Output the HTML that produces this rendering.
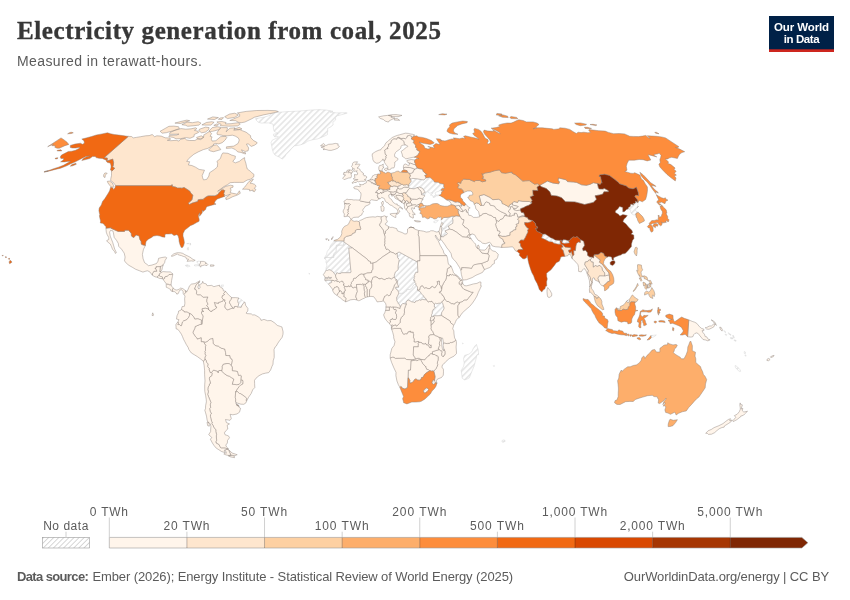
<!DOCTYPE html>
<html lang="en"><head><meta charset="utf-8"><title>Electricity generation from coal, 2025</title>
<style>
html,body{margin:0;padding:0;background:#fff;}
body{width:850px;height:600px;overflow:hidden;position:relative;font-family:"Liberation Sans",sans-serif;}
svg{position:absolute;left:0;top:0;}
.title{font-family:"Liberation Serif",serif;font-weight:700;font-size:25px;fill:#373737;stroke:#373737;stroke-width:0.35px;}
.sub{font-size:14px;fill:#5b5b5b;}
.lg{font-size:12px;fill:#5b5b5b;}
.ft{font-size:13px;fill:#5b5b5b;}
.logo{font-size:11.5px;font-weight:700;fill:#fff;}
#map path{stroke:#8a7f78;stroke-width:0.45;stroke-linejoin:round;}
#map .nd path{stroke:#cfcfcf;}
</style></head><body>
<svg width="850" height="600" viewBox="0 0 850 600">
<defs><pattern id="hatch" patternUnits="userSpaceOnUse" width="4.2" height="4.2" patternTransform="rotate(45)"><rect width="4.2" height="4.2" fill="#fff"/><rect x="0" y="0" width="1.7" height="4.2" fill="#e7e7e7"/></pattern><pattern id="hatchL" patternUnits="userSpaceOnUse" width="3.6" height="3.6" patternTransform="rotate(45)"><rect width="3.6" height="3.6" fill="#fff"/><rect x="0" y="0" width="0.8" height="3.6" fill="#cdcdcd"/></pattern></defs>
<rect width="850" height="600" fill="#fff"/>
<text id="title" x="17" y="39" class="title" style="letter-spacing:0.605px;">Electricity generation from coal, 2025</text>
<text id="sub" x="17" y="66.2" class="sub" style="letter-spacing:0.407px;">Measured in terawatt-hours.</text>
<g id="logo"><rect x="769" y="16" width="65" height="36" fill="#002147"/><rect x="769" y="49.3" width="65" height="2.7" fill="#ce261e"/>
<text id="lo1" x="801.5" y="30.6" text-anchor="middle" class="logo" style="letter-spacing:-0.113px;">Our World</text>
<text id="lo2" x="801.5" y="42.8" text-anchor="middle" class="logo" style="letter-spacing:-0.421px;">in Data</text></g>
<g id="map">
<g fill="url(#hatch)" class="nd">
<path id="c-ATF" d="M502.1,440.5L504.0,439.8L505.4,441.0L503.5,442.2L502.0,442.0Z"/>
<path id="c-BHS" d="M187.4,247.9L188.5,247.6L188.6,250.0L187.3,249.7ZM186.7,243.7L189.0,243.3L188.7,243.8ZM190.0,242.9L190.9,244.0L190.2,245.3L190.0,244.2Z"/>
<path id="c-BRN" d="M629.4,300.3L629.3,301.9L627.9,302.7L626.5,301.4L627.6,300.3L628.5,300.1L629.0,299.6Z"/>
<path id="c-BTN" d="M565.1,239.8L567.8,240.6L568.9,241.5L569.3,243.0L566.9,243.2L564.3,243.4L562.0,242.8L562.0,241.8L563.0,239.7Z"/>
<path id="c-CAF" d="M398.9,304.4L398.0,303.1L397.8,302.1L396.7,300.8L396.9,300.0L396.6,298.9L396.8,296.8L397.4,296.4L398.5,293.7L400.4,293.5L400.8,292.9L401.2,292.9L401.8,293.5L404.6,292.5L405.6,291.5L406.8,290.6L406.6,289.7L407.2,289.4L409.4,289.6L411.6,288.4L413.2,285.5L414.4,284.5L415.8,284.0L416.1,285.2L417.4,286.8L417.5,287.8L417.4,289.9L418.1,290.5L419.9,291.6L421.0,292.7L421.1,293.5L422.7,294.9L423.7,296.0L424.3,297.6L426.0,298.6L426.4,299.5L425.7,299.7L424.2,299.7L422.4,299.4L421.6,299.6L421.3,300.2L420.5,300.3L419.6,299.8L417.0,301.1L416.0,300.8L415.7,301.0L415.0,302.6L413.3,302.1L411.6,301.8L410.1,300.9L408.2,300.0L407.0,300.8L406.1,302.1L406.3,304.0L405.9,304.0L404.4,303.8L402.8,303.4L401.5,304.8L400.3,307.2L399.9,305.2Z"/>
<path id="c-COM" d="M462.6,342.8L463.1,343.4L462.7,344.1Z"/>
<path id="c-CPV" d="M308.9,273.2L309.7,273.8L309.1,274.2Z"/>
<path id="c-CYP" d="M433.6,221.8L435.0,220.9L438.4,220.0L437.1,221.8L435.3,222.8L433.9,222.4Z"/>
<path id="c-ESH" d="M343.9,241.9L343.9,245.3L336.4,245.3L336.2,251.9L334.0,253.4L333.9,257.5L324.9,257.5L324.7,258.8L324.8,257.3L326.5,254.4L327.3,251.3L329.6,248.4L330.1,246.6L331.0,244.5L333.1,242.7L333.8,241.0L333.9,240.9L343.9,240.9Z"/>
<path id="c-GMB" d="M328.0,276.9L328.8,276.9L329.7,277.5L330.4,277.5L331.1,277.1L331.6,277.9L330.6,278.5L329.6,278.4L328.6,277.9L327.8,278.5L327.4,278.5L326.8,278.8L324.8,278.8L324.8,277.9L324.9,277.6L327.5,277.6Z"/>
<path id="c-GNB" d="M331.6,281.4L331.8,282.3L331.4,282.6L330.9,282.6L330.3,283.1L329.6,283.0L328.6,284.3L327.5,283.1L325.7,281.3L325.0,280.9L325.0,280.8L326.3,280.4L327.6,280.1L331.9,280.3L331.8,281.1Z"/>
<path id="c-GRL" d="M282.2,159.0L279.0,156.9L275.1,155.2L273.3,152.6L272.2,148.7L271.7,145.7L271.0,142.5L272.4,140.0L277.7,137.8L278.3,136.5L274.7,136.9L273.2,135.0L273.6,134.1L278.0,133.5L274.2,131.3L273.5,129.6L273.3,126.1L273.0,124.1L268.5,122.9L261.5,123.1L258.3,122.3L256.6,120.7L255.8,119.1L255.5,118.6L264.3,117.1L270.0,115.4L270.9,113.7L277.0,112.4L287.4,111.6L298.7,111.1L308.9,110.2L318.7,109.6L326.6,110.1L333.0,111.3L330.0,112.1L336.7,112.9L345.8,112.7L347.2,113.1L342.0,114.6L337.4,115.8L335.5,117.6L335.6,120.1L332.9,122.1L333.1,124.7L331.1,126.7L327.5,128.6L327.8,130.9L327.5,132.4L327.5,134.5L326.0,135.4L321.4,137.4L317.7,138.9L312.4,139.8L307.8,141.1L304.6,143.4L300.7,144.8L297.9,145.4L294.3,145.9L291.7,148.4L289.0,151.5L286.3,154.3L284.4,157.3Z"/>
<path id="c-GUF" d="M238.7,303.7L237.8,302.1L237.7,300.1L238.8,298.0L239.0,298.2L242.2,300.1L244.0,302.1L244.1,302.1L243.8,302.9L242.1,305.0L241.2,307.4L239.1,307.1L237.3,307.0L238.2,305.8Z"/>
<path id="c-HTI" d="M200.5,263.0L199.6,264.6L200.0,266.0L197.7,265.7L195.1,266.0L194.0,265.2L196.2,264.7L198.8,264.7L197.9,263.3L196.7,261.8L198.2,261.1L200.5,261.4L200.5,261.6Z"/>
<path id="c-JAM" d="M185.1,265.5L187.1,264.8L189.7,265.7L189.9,266.4L187.5,266.9L185.4,265.6Z"/>
<path id="c-JOR" d="M441.3,234.0L441.6,232.0L441.7,230.3L441.5,228.6L441.8,227.7L444.2,228.8L448.3,226.0L449.6,229.2L444.9,230.9L447.4,233.5L446.4,234.8L444.8,235.2L443.5,236.9L440.9,236.5L440.9,236.0Z"/>
<path id="c-LSO" d="M427.7,390.7L427.2,391.6L426.0,392.0L425.5,392.8L424.7,393.1L423.2,391.1L424.5,389.4L425.7,388.4L426.8,387.8L427.8,388.7L428.5,389.4Z"/>
<path id="c-MDG" d="M476.4,344.4L478.2,349.6L478.6,354.6L477.0,354.8L475.7,360.1L473.9,366.6L471.7,371.8L469.4,377.8L467.7,378.8L464.6,379.9L462.2,378.3L461.7,374.0L461.2,370.5L463.7,366.1L464.2,362.7L463.5,358.8L464.7,355.4L469.0,354.1L471.9,351.7L473.2,348.6L475.2,345.7Z"/>
<path id="c-MRT" d="M333.9,257.5L334.0,253.4L336.2,251.9L336.4,245.3L343.9,245.3L343.9,241.9L352.4,247.9L348.8,248.0L349.8,259.3L350.8,270.5L351.2,270.8L350.6,272.7L341.5,272.7L341.1,273.3L339.0,273.6L337.4,272.9L336.6,272.9L336.2,274.5L335.5,275.0L334.0,273.2L332.6,271.3L331.1,270.6L330.0,269.8L328.8,269.8L327.7,270.4L326.5,270.2L325.7,271.0L326.2,267.4L326.9,265.9L326.5,263.0L325.8,262.2L326.3,260.1L324.7,258.8L324.9,257.5Z"/>
<path id="c-MUS" d="M493.3,365.8L494.3,365.5L494.1,366.6Z"/>
<path id="c-NCL" d="M735.2,365.5L737.2,366.6L739.9,369.5L740.6,371.3L739.2,371.3L736.6,368.9L735.3,367.1Z"/>
<path id="c-NPL" d="M548.2,236.0L550.6,237.7L552.7,238.4L555.1,240.0L557.1,240.2L559.9,240.4L560.6,244.2L558.4,244.2L553.9,243.3L552.4,241.9L549.4,241.7L544.2,239.1L541.5,238.0L542.8,234.3L545.1,233.9Z"/>
<path id="c-PRK" d="M630.2,206.5L630.8,204.1L633.8,204.9L632.9,203.6L634.7,203.5L635.7,202.4L635.3,201.0L637.8,202.5L638.1,202.8L638.1,203.0L637.7,205.4L638.1,206.4L637.5,207.5L636.4,208.8L635.3,210.1L635.9,211.1L638.4,212.4L638.3,212.4L636.0,213.2L635.8,214.5L635.8,214.8L635.6,215.0L633.4,214.8L631.9,214.0L630.5,211.9L630.8,210.3L628.1,208.9L628.5,207.6Z"/>
<path id="c-SLB" d="M723.9,330.6L726.0,332.1L725.3,332.4L723.8,331.1ZM725.2,334.2L726.8,334.5L726.4,335.5L725.3,335.0ZM728.3,332.7L731.1,334.8L730.8,335.3L728.4,333.7ZM730.4,337.4L733.1,337.9L732.7,338.9L730.7,338.7ZM732.9,335.0L734.3,337.4L734.0,338.1L733.0,336.6ZM734.0,339.8L736.2,340.5L735.9,341.3L734.1,340.5Z"/>
<path id="c-SWZ" d="M435.1,382.8L434.5,384.0L433.2,384.3L432.0,382.9L432.0,382.0L432.7,381.0L432.9,380.2L433.6,380.0L434.7,380.5L435.0,381.7Z"/>
<path id="c-SYR" d="M442.7,218.5L443.7,217.5L447.2,217.4L449.7,217.1L451.8,216.3L454.7,216.3L452.4,217.9L453.0,220.2L452.8,223.3L448.3,226.0L444.2,228.8L441.8,227.7L441.4,226.3L442.0,225.4L443.1,223.9L442.8,223.0L441.6,222.7L441.4,221.3L440.9,220.2L441.1,219.3L441.8,219.6Z"/>
<path id="c-TCD" d="M408.2,257.0L417.4,262.0L417.9,272.4L415.9,272.2L414.9,274.1L414.3,275.7L414.8,276.3L414.1,277.1L414.4,278.2L413.8,279.3L413.6,280.3L414.4,280.1L414.9,281.1L415.0,282.6L415.8,283.4L415.8,284.0L414.4,284.5L413.2,285.5L411.6,288.4L409.4,289.6L407.2,289.4L406.6,289.7L406.8,290.6L405.6,291.5L404.6,292.5L401.8,293.5L401.2,292.9L400.8,292.9L400.4,293.5L398.5,293.7L398.9,293.0L398.1,291.2L397.8,290.1L396.7,289.7L395.4,288.2L395.9,287.0L396.9,287.2L397.6,287.0L398.9,287.1L397.6,284.7L397.6,282.9L397.5,281.2L396.5,279.5L395.9,279.7L394.4,277.4L394.3,275.6L395.2,272.2L398.1,269.7L398.1,266.3L398.9,261.0L399.3,259.9L398.4,259.0L398.3,258.2L397.5,257.5L397.1,253.1L399.1,252.0Z"/>
<path id="c-TLS" d="M650.9,335.6L650.9,335.5L653.3,335.3L656.3,335.0L654.3,336.6L651.2,337.9Z"/>
<path id="c-TTO" d="M221.1,285.2L223.4,284.9L223.1,286.7L221.0,286.9Z"/>
<path id="c-UGA" d="M436.9,303.8L438.7,303.2L440.3,303.2L441.8,302.0L442.9,303.8L443.2,305.1L444.2,308.1L443.4,310.0L442.2,311.7L441.6,312.8L441.6,315.6L436.9,315.8L434.4,315.7L433.5,316.0L432.2,316.9L431.6,316.6L431.6,314.6L432.2,313.6L432.3,311.5L432.8,310.3L433.7,309.0L434.5,308.3L435.3,307.4L434.3,307.0L434.4,303.9L435.4,303.2Z"/>
<path id="c-UKR" d="M423.9,179.9L426.1,177.9L429.9,177.3L431.3,178.6L433.7,180.6L434.4,182.1L438.3,182.3L439.7,183.3L443.9,184.2L443.7,186.2L444.2,187.6L444.2,188.6L442.2,188.6L441.3,189.4L441.3,190.5L439.9,190.6L438.2,191.4L435.7,192.3L435.0,192.9L435.4,194.1L436.6,195.1L438.5,194.9L438.6,195.8L436.6,195.9L434.7,197.2L433.1,197.4L432.8,195.5L430.4,195.0L432.3,193.6L432.6,192.9L430.5,193.1L429.1,193.1L427.9,191.8L426.5,192.0L425.5,193.7L424.6,194.9L424.6,195.4L421.5,194.7L422.9,193.3L425.2,192.3L424.6,191.3L422.5,188.3L419.6,187.1L417.2,187.6L414.0,188.9L409.8,188.3L408.2,187.2L408.8,185.5L408.8,184.3L409.1,184.0L410.7,182.1L411.3,181.0L410.1,179.4L412.7,178.4L417.1,178.8L421.4,179.6Z"/>
<path id="c-VUT" d="M744.3,351.5L745.6,352.2L745.2,353.8L744.2,353.3ZM745.0,354.8L746.2,355.6L745.6,356.3L745.1,355.6Z"/>
</g>
<g fill="#fff5eb">
<path id="c-AFG" d="M500.2,219.6L503.0,218.4L504.8,215.1L506.7,215.7L509.5,216.1L511.8,215.8L512.9,215.0L514.5,215.1L514.2,213.2L516.3,213.2L517.2,214.2L517.8,217.1L520.0,216.6L522.3,215.5L524.8,215.9L524.2,216.4L519.9,217.1L517.6,219.0L519.0,220.7L518.5,223.5L516.1,224.4L517.3,226.1L515.8,226.9L515.9,229.7L513.5,230.1L512.9,231.2L510.1,232.5L510.1,235.2L505.7,236.4L502.1,236.4L498.3,235.2L499.9,232.6L499.6,231.2L497.5,230.9L497.2,229.1L496.0,226.5L495.5,224.1L496.5,222.6L496.2,220.1L498.8,221.4Z"/>
<path id="c-AGO" d="M392.1,326.8L392.0,327.9L391.4,328.2L391.4,326.1L391.1,325.6L391.7,325.1L392.4,324.7L393.3,325.6L392.4,326.1ZM406.5,359.5L404.9,358.3L395.7,358.4L395.3,358.5L394.0,357.4L392.5,357.3L391.2,357.7L390.2,358.2L390.2,358.1L390.2,354.8L391.2,350.9L391.9,348.3L394.0,345.7L395.0,341.8L393.7,337.9L393.7,336.1L392.8,332.7L391.6,329.0L391.7,329.0L392.7,328.7L393.3,328.7L394.1,328.4L400.9,328.4L401.5,330.4L402.1,331.9L402.7,332.8L403.5,334.2L405.0,333.9L405.8,333.6L407.1,333.9L407.4,333.3L408.0,331.8L409.5,331.7L409.6,331.2L410.8,331.2L410.5,332.1L413.3,332.1L413.4,333.8L413.8,334.8L413.5,336.3L413.6,337.9L414.4,338.9L414.2,342.0L414.7,341.8L415.8,341.9L417.2,341.5L418.2,341.6L418.5,342.4L418.2,343.7L418.5,344.9L418.2,345.9L418.4,346.8L413.6,346.8L413.3,355.1L414.7,357.2L416.2,358.8L412.0,359.9Z"/>
<path id="c-ALB" d="M405.4,202.2L406.7,203.9L406.6,205.4L407.8,206.6L407.2,208.5L405.9,209.6L404.5,208.0L404.4,205.4L404.2,204.0L404.4,202.2Z"/>
<path id="c-ARE" d="M489.2,248.4L488.9,250.5L487.9,253.9L482.0,253.2L479.5,250.2L479.4,249.8L479.4,249.7L481.7,250.0L484.4,250.2L485.9,249.3L487.5,247.2L488.9,245.4L489.0,245.1L489.4,246.2L489.9,246.3L489.9,247.9L489.9,248.0Z"/>
<path id="c-ARG" d="M221.1,448.1L220.1,447.2L219.1,444.7L216.0,443.0L215.9,441.3L216.7,440.3L216.4,438.0L216.3,435.9L216.6,434.7L215.8,431.6L215.8,429.8L214.0,427.7L213.2,425.7L211.7,423.4L212.3,422.9L211.7,421.6L210.9,418.7L210.4,416.4L210.5,414.6L211.4,413.8L210.1,411.2L209.6,408.6L210.7,407.3L210.2,404.9L210.9,402.3L209.9,400.0L208.4,396.3L207.6,394.2L208.4,391.9L207.8,389.5L208.1,387.2L209.1,385.6L209.5,383.8L210.5,383.3L210.0,381.5L209.3,378.8L209.7,377.0L211.7,375.8L212.1,373.1L211.6,372.6L212.5,371.2L213.5,370.0L216.0,370.8L217.3,371.0L218.2,372.7L218.8,370.5L221.4,370.5L221.8,371.2L224.4,373.6L227.0,375.5L229.4,376.2L231.6,377.7L233.9,379.1L232.3,384.2L236.9,384.7L239.1,384.3L240.7,382.5L240.8,379.8L242.5,380.0L243.1,381.5L243.0,383.9L240.7,385.1L239.1,386.7L238.0,388.2L235.6,391.9L235.5,394.0L235.3,397.4L235.7,399.5L235.6,401.5L235.7,401.8L235.7,401.9L236.0,403.4L236.2,403.6L236.8,405.2L239.1,406.5L239.2,407.5L240.6,408.3L239.5,412.2L236.9,414.0L232.8,414.8L230.1,414.3L231.3,418.7L230.0,420.3L225.5,419.5L226.4,422.6L229.5,423.9L227.2,425.2L227.8,429.0L225.8,430.8L224.4,432.9L225.0,434.7L228.5,435.9L229.5,437.7L227.5,440.5L227.4,443.0L225.8,445.1L226.6,447.1L228.5,448.8L228.2,448.9L225.0,448.1ZM229.6,450.6L232.1,453.0L237.2,454.7L235.1,455.6L231.4,455.2L228.3,455.4L230.9,455.2L228.5,449.7Z"/>
<path id="c-ARM" d="M458.4,205.4L459.9,206.7L461.1,208.3L462.5,210.1L462.9,211.7L460.6,211.4L458.8,209.6L456.3,208.5L455.2,205.9L458.2,205.5Z"/>
<path id="c-AUT" d="M385.7,189.7L388.1,189.2L389.9,189.5L389.7,188.6L389.2,188.0L390.5,186.8L391.3,186.3L393.0,186.7L393.6,185.7L396.5,186.3L397.6,186.7L398.1,188.2L398.1,189.0L397.3,189.0L396.8,189.7L397.0,190.8L396.2,191.1L395.4,191.5L393.2,192.3L391.4,192.0L388.7,191.5L388.1,190.6L385.8,191.4L384.7,191.1L384.0,191.2L382.9,190.6L382.9,189.4L384.6,189.4Z"/>
<path id="c-AZE" d="M466.5,210.3L465.2,209.7L462.9,211.7L462.5,210.1L461.1,208.3L459.9,206.7L458.4,205.4L461.7,206.1L461.0,204.6L461.2,203.9L463.3,205.4L464.6,205.7L465.7,204.0L466.8,205.2L468.3,207.0L470.2,207.9L468.4,208.8L468.6,210.6L467.9,211.4L468.1,212.8L466.1,211.9Z"/>
<path id="c-BDI" d="M433.6,319.4L433.8,320.4L434.2,321.0L434.3,321.9L433.7,322.4L432.8,323.8L431.9,324.7L431.0,324.8L430.9,321.7L430.3,320.5L431.7,320.7Z"/>
<path id="c-BEL" d="M372.9,182.8L371.7,183.3L371.6,182.4L370.5,181.9L369.6,181.2L368.6,181.1L368.4,180.4L369.9,179.8L370.0,179.7L371.7,179.7L373.0,179.5L373.4,179.9L374.9,180.3L374.7,181.1L375.3,181.3L376.0,182.3L375.6,182.8L374.8,183.5L375.0,184.3L373.0,183.7Z"/>
<path id="c-BEN" d="M372.0,285.1L371.6,286.1L371.8,286.9L370.7,288.5L370.0,289.3L369.6,290.9L369.6,292.6L369.5,296.5L367.5,296.9L367.0,295.3L367.1,289.3L366.7,288.8L366.6,287.5L365.1,285.8L365.4,284.4L366.1,284.1L366.6,283.0L367.8,282.7L368.2,281.9L369.0,281.2L369.8,281.2L371.6,282.7L371.5,283.5Z"/>
<path id="c-BFA" d="M361.6,284.6L360.5,284.4L356.5,284.5L356.5,286.0L356.8,287.9L355.2,287.3L354.2,287.4L353.3,288.0L352.3,287.5L351.9,286.6L350.9,286.0L350.7,284.5L351.4,283.4L351.3,282.5L353.1,280.4L353.5,278.6L354.1,278.0L355.2,278.3L356.2,277.8L356.5,277.1L358.3,275.9L358.7,275.1L360.9,274.0L362.1,273.7L362.7,274.2L364.1,274.1L364.0,275.4L364.3,276.6L365.6,278.3L365.6,279.6L368.3,280.1L368.2,281.9L367.8,282.7L366.6,283.0L366.1,284.1L365.4,284.4L363.3,284.3L362.3,284.1Z"/>
<path id="c-BGR" d="M411.4,200.5L410.0,199.0L410.4,197.9L411.2,199.0L414.4,199.2L416.5,199.4L419.5,198.1L422.9,199.1L422.8,200.0L421.8,200.5L421.4,201.8L421.0,202.3L422.3,203.6L421.0,203.3L418.9,204.4L416.8,205.5L415.0,204.8L411.8,205.3L411.6,203.7L410.3,202.8L410.4,201.3Z"/>
<path id="c-BIH" d="M399.4,200.0L397.0,197.9L395.9,196.4L396.0,195.4L398.2,195.2L400.5,195.6L402.8,196.2L403.5,197.7L403.9,198.6L403.4,199.7L402.4,200.4L402.0,202.3L400.2,200.9Z"/>
<path id="c-BLR" d="M409.0,177.4L410.3,176.4L410.2,175.1L409.0,173.3L410.8,173.4L413.0,172.4L413.1,170.9L414.5,169.9L414.3,169.0L416.2,168.7L417.1,167.9L419.6,168.7L422.6,169.2L423.1,171.2L425.1,173.2L427.2,174.6L424.8,175.4L426.1,177.9L423.9,179.9L421.4,179.6L417.1,178.8L412.7,178.4L410.1,179.4L409.9,177.9Z"/>
<path id="c-BLZ" d="M161.2,266.4L162.5,264.9L163.1,265.0L163.2,265.0L162.4,267.4L161.9,270.1L160.6,271.4L160.3,271.4L160.3,271.6L159.7,271.6L160.4,266.6L160.4,266.3Z"/>
<path id="c-BOL" d="M207.8,341.0L210.1,338.9L212.9,338.4L213.3,341.5L213.3,343.6L215.6,345.6L218.4,346.1L219.4,347.0L221.6,348.3L224.8,349.0L225.6,352.5L225.9,355.5L230.0,355.6L230.3,358.1L231.8,358.9L232.4,360.6L232.0,362.7L231.4,364.8L231.4,365.7L229.1,363.6L227.0,363.5L223.2,364.4L222.2,366.7L222.4,368.0L221.8,371.2L221.4,370.5L218.8,370.5L218.2,372.7L217.3,371.0L216.0,370.8L213.5,370.0L212.5,371.2L211.6,372.6L210.1,372.6L209.0,369.2L209.3,368.7L207.5,366.3L207.9,364.9L207.9,363.7L206.6,362.5L206.2,360.6L205.0,358.8L204.6,358.2L205.8,355.4L204.8,353.8L205.3,352.9L204.7,351.7L205.5,350.4L205.4,346.5L205.8,345.7L203.4,341.7L205.8,342.1Z"/>
<path id="c-BRA" d="M246.7,398.4L244.9,396.7L242.8,395.2L240.4,393.6L239.5,393.5L237.4,391.6L235.6,391.9L238.0,388.2L239.1,386.7L240.7,385.1L243.0,383.9L243.1,381.5L242.5,380.0L240.8,379.8L241.2,375.8L240.3,375.3L238.5,375.6L237.9,373.6L237.4,371.5L235.7,371.2L232.3,370.8L232.3,367.2L231.4,365.7L231.4,364.8L232.0,362.7L232.4,360.6L231.8,358.9L230.3,358.1L230.0,355.6L225.9,355.5L225.6,352.5L224.8,349.0L221.6,348.3L219.4,347.0L218.4,346.1L215.6,345.6L213.3,343.6L213.3,341.5L212.9,338.4L210.1,338.9L207.8,341.0L205.8,342.1L203.4,341.7L201.2,341.8L201.2,337.8L197.3,339.2L196.8,337.9L195.4,336.6L192.9,332.8L193.4,331.1L194.6,328.9L195.2,326.5L199.6,324.6L201.9,324.1L203.0,316.0L201.5,313.5L201.5,311.7L203.6,311.4L202.0,310.4L202.0,308.7L205.8,308.0L206.5,308.5L208.4,308.7L208.9,310.0L210.2,311.1L212.0,311.3L212.5,310.2L215.1,309.2L216.9,307.1L215.4,306.6L215.1,305.0L214.3,302.4L215.6,302.7L218.4,303.4L218.4,302.5L222.7,301.2L223.3,299.5L225.1,299.9L224.7,301.4L225.8,302.9L225.3,304.2L224.9,306.8L225.5,308.3L227.1,309.7L228.2,309.7L230.5,308.7L232.9,308.0L234.0,308.3L234.3,306.6L236.3,306.4L237.3,307.0L239.1,307.1L241.2,307.4L242.1,305.0L243.8,302.9L244.1,302.1L245.0,302.1L245.6,305.3L247.9,308.4L247.8,311.0L246.0,313.1L247.1,313.6L251.3,313.9L252.5,314.9L254.8,314.9L258.2,316.8L260.6,318.8L261.0,320.4L264.0,319.4L267.5,320.7L271.0,320.5L274.5,322.8L277.3,325.4L280.3,326.4L281.9,326.9L282.7,330.1L283.1,331.9L283.0,334.2L282.1,337.4L279.7,340.5L277.9,343.1L276.2,346.2L275.1,347.0L274.0,349.6L274.2,353.5L274.2,357.5L273.2,360.8L273.0,364.2L272.0,366.3L270.6,370.0L268.7,372.6L265.8,373.1L262.5,373.9L259.0,375.7L255.9,378.3L254.5,380.4L254.6,383.5L254.8,387.5L252.7,389.8L251.2,393.5L248.7,397.1L246.5,401.2L246.1,400.0Z"/>
<path id="c-BWA" d="M410.5,370.0L410.9,360.7L412.6,360.6L416.1,359.9L416.9,360.8L418.4,359.8L419.1,359.8L420.4,359.2L420.8,359.4L421.6,361.5L422.1,361.9L422.7,363.4L425.2,366.3L426.1,366.6L426.1,367.5L426.7,369.2L428.4,369.6L429.8,370.7L426.5,372.7L424.4,374.6L423.6,376.3L422.9,377.3L421.6,377.5L421.2,378.8L420.9,379.6L419.4,380.2L417.6,380.1L416.6,379.3L415.6,379.0L414.5,379.6L413.9,380.9L412.8,381.7L411.7,382.8L410.0,383.1L409.6,382.2L409.9,380.6L408.6,378.1L408.0,377.7L408.3,370.1Z"/>
<path id="c-CHE" d="M377.3,192.3L376.1,192.6L375.9,192.9L375.6,192.8L375.8,191.8L376.5,191.4L377.6,190.0L378.8,189.3L380.8,188.7L382.9,189.4L382.9,190.6L384.0,191.2L384.7,191.1L384.0,191.8L383.9,192.7L382.4,192.0L381.8,193.8L380.6,192.2L380.6,192.7L379.5,193.5L377.8,193.5L377.3,192.9Z"/>
<path id="c-CHL" d="M211.7,375.8L209.7,377.0L209.3,378.8L210.0,381.5L210.5,383.3L209.5,383.8L209.1,385.6L208.1,387.2L207.8,389.5L208.4,391.9L207.6,394.2L208.4,396.3L209.9,400.0L210.9,402.3L210.2,404.9L210.7,407.3L209.6,408.6L210.1,411.2L211.4,413.8L210.5,414.6L210.4,416.4L210.9,418.7L211.7,421.6L212.3,422.9L211.7,423.4L213.2,425.7L214.0,427.7L215.8,429.8L215.8,431.6L216.6,434.7L216.3,435.9L216.4,438.0L216.7,440.3L215.9,441.3L216.0,443.0L219.1,444.7L220.1,447.2L221.1,448.1L225.0,448.1L228.2,448.9L226.6,449.3L224.3,450.1L225.0,452.6L221.7,451.6L218.9,449.8L216.2,448.1L214.1,445.6L212.4,443.0L210.4,439.2L211.8,437.5L208.7,434.7L210.6,431.6L210.7,429.0L210.9,426.5L210.4,423.9L207.9,422.1L207.1,420.0L206.5,416.1L205.4,412.2L204.8,410.1L205.5,408.8L205.6,405.7L206.4,401.8L206.2,399.2L205.6,395.3L204.8,391.4L204.7,388.8L204.7,384.8L205.0,380.9L204.6,374.4L204.6,370.5L204.2,365.8L203.3,361.1L203.1,361.0L203.2,361.0L204.4,360.3L205.0,358.8L206.2,360.6L206.6,362.5L207.9,363.7L207.9,364.9L207.5,366.3L209.3,368.7L209.0,369.2L210.1,372.6L211.6,372.6L212.1,373.1ZM230.9,455.2L228.3,455.4L226.2,455.0L223.8,454.0L225.3,453.0L226.3,453.3L226.2,452.1L225.3,450.6L226.8,449.3L228.5,449.7ZM228.5,456.0L232.2,455.5L234.4,456.3L234.5,457.7L230.9,457.0ZM207.0,422.3L208.4,422.2L209.3,424.4L209.3,426.2L207.7,425.7Z"/>
<path id="c-CIV" d="M356.4,293.8L355.8,296.8L356.8,299.0L356.7,300.0L356.2,299.8L354.1,299.4L350.6,299.8L348.3,300.8L346.0,301.8L345.5,301.8L345.5,301.7L345.7,299.6L345.9,299.2L345.8,298.2L344.9,297.1L344.1,297.0L343.5,296.2L344.0,295.1L343.7,293.8L343.9,293.0L344.2,293.0L344.4,291.9L344.2,291.4L344.4,291.0L345.3,290.7L344.7,288.6L344.2,287.6L344.4,286.7L344.8,286.5L345.1,286.2L345.8,286.6L347.6,286.6L348.0,285.9L348.4,285.9L349.0,285.7L349.4,286.7L349.9,286.4L350.9,286.0L351.9,286.6L352.3,287.5L353.3,288.0L354.2,287.4L355.2,287.3L356.8,287.9L357.4,291.7Z"/>
<path id="c-CMR" d="M385.9,307.1L386.1,305.3L385.5,303.2L385.0,302.4L383.8,301.4L382.9,300.8L382.8,300.9L382.9,300.7L383.5,298.8L384.6,296.3L385.2,296.3L386.6,294.7L387.5,294.7L388.8,295.8L390.4,294.9L390.6,293.8L391.1,292.7L391.4,291.4L392.6,290.3L393.1,288.5L393.6,287.9L393.9,286.6L394.5,284.9L396.4,282.9L396.5,282.1L396.7,281.6L395.8,280.5L395.9,279.7L396.5,279.5L397.5,281.2L397.6,282.9L397.6,284.7L398.9,287.1L397.6,287.0L396.9,287.2L395.9,287.0L395.4,288.2L396.7,289.7L397.8,290.1L398.1,291.2L398.9,293.0L398.5,293.7L397.4,296.4L396.8,296.8L396.6,298.9L396.9,300.0L396.7,300.8L397.8,302.1L398.0,303.1L398.9,304.4L399.9,305.2L400.3,307.2L400.1,308.6L398.3,308.0L396.4,307.3L393.5,307.2L393.2,307.0L391.8,307.4L390.4,307.0L389.3,307.2L385.9,307.2Z"/>
<path id="c-COD" d="M415.8,341.9L414.7,341.8L414.2,342.0L414.4,338.9L413.6,337.9L413.5,336.3L413.8,334.8L413.4,333.8L413.3,332.1L410.5,332.1L410.8,331.2L409.6,331.2L409.5,331.7L408.0,331.8L407.4,333.3L407.1,333.9L405.8,333.6L405.0,333.9L403.5,334.2L402.7,332.8L402.1,331.9L401.5,330.4L400.9,328.4L394.1,328.4L393.3,328.7L392.7,328.7L391.7,329.0L391.6,329.0L391.4,328.5L391.4,328.2L392.0,327.9L392.1,326.8L392.4,326.1L393.3,325.6L393.9,325.8L394.7,324.8L395.9,324.9L396.1,325.6L396.9,326.1L398.3,324.4L399.6,323.2L400.2,322.3L400.2,320.2L401.2,317.6L402.3,316.3L403.8,315.0L404.0,314.2L404.1,313.3L404.5,312.3L404.3,310.9L404.6,308.6L405.1,306.9L405.7,305.5L406.3,304.0L406.1,302.1L407.0,300.8L408.2,300.0L410.1,300.9L411.6,301.8L413.3,302.1L415.0,302.6L415.7,301.0L416.0,300.8L417.0,301.1L419.6,299.8L420.5,300.3L421.3,300.2L421.6,299.6L422.4,299.4L424.2,299.7L425.7,299.7L426.4,299.5L427.8,301.6L428.9,301.9L429.5,301.5L430.6,301.6L431.8,301.1L432.4,302.2L434.4,303.9L434.3,307.0L435.3,307.4L434.5,308.3L433.7,309.0L432.8,310.3L432.3,311.5L432.2,313.6L431.6,314.6L431.6,316.6L430.9,317.3L430.8,318.9L430.5,319.1L430.3,320.5L430.9,321.7L431.0,324.8L431.4,327.2L431.1,328.6L431.6,330.1L432.9,331.6L434.1,334.9L433.2,334.6L430.0,335.0L429.4,335.4L428.7,337.0L429.2,338.2L428.8,341.3L428.4,343.9L429.0,344.3L430.6,345.3L431.2,344.9L431.3,347.7L429.6,347.7L428.7,346.2L427.9,345.1L426.1,344.7L425.6,343.4L424.2,344.2L422.4,343.8L421.7,342.7L420.2,342.4L419.1,342.5L419.0,341.7L418.2,341.6L417.2,341.5Z"/>
<path id="c-COG" d="M405.1,306.9L404.6,308.6L404.3,310.9L404.5,312.3L404.1,313.3L404.0,314.2L403.8,315.0L402.3,316.3L401.2,317.6L400.2,320.2L400.2,322.3L399.6,323.2L398.3,324.4L396.9,326.1L396.1,325.6L395.9,324.9L394.7,324.8L393.9,325.8L393.3,325.6L392.4,324.7L391.7,325.1L391.1,325.6L390.5,324.8L389.0,323.4L390.7,322.0L389.8,320.3L390.6,319.6L392.2,319.3L392.3,318.2L393.6,319.4L395.6,319.5L396.3,318.3L396.6,316.6L396.4,314.5L395.3,313.0L396.3,310.0L395.7,309.4L394.0,309.7L393.3,308.3L393.5,307.2L396.4,307.3L398.3,308.0L400.1,308.6L400.3,307.2L401.5,304.8L402.8,303.4L404.4,303.8L405.9,304.0L406.3,304.0L405.7,305.5Z"/>
<path id="c-COL" d="M196.8,284.1L195.8,285.8L194.6,289.1L195.8,289.4L196.7,291.2L196.5,293.7L197.4,294.8L200.4,294.7L203.2,297.2L207.9,296.9L207.0,299.3L206.8,301.4L208.0,304.2L206.7,305.8L208.2,307.1L208.9,310.0L208.4,308.7L206.5,308.5L205.8,308.0L202.0,308.7L202.0,310.4L203.6,311.4L201.5,311.7L201.5,313.5L203.0,316.0L201.9,324.1L201.1,323.1L201.5,320.1L197.8,318.8L194.8,319.2L193.4,316.5L191.5,314.4L189.5,313.4L188.7,313.0L187.1,312.1L184.4,312.1L183.9,311.0L182.0,310.0L181.4,309.4L182.1,306.6L184.4,306.3L184.9,303.2L184.6,298.8L185.0,296.1L183.9,294.3L184.8,293.4L185.6,292.4L185.3,290.5L186.3,290.9L186.5,292.2L187.8,289.9L189.6,285.7L191.5,284.1L195.0,283.6L197.6,282.1L199.8,280.7L199.5,282.2L198.2,282.7Z"/>
<path id="c-CRI" d="M168.8,284.3L169.9,284.9L171.1,284.6L171.6,286.2L173.4,288.1L172.6,289.4L172.7,290.0L172.5,291.5L172.3,291.4L170.9,290.9L170.7,289.6L168.5,288.3L167.6,287.8L166.3,287.3L166.2,284.7L166.5,284.2L166.7,283.9Z"/>
<path id="c-CUB" d="M171.2,256.1L173.7,253.9L176.0,253.1L177.4,252.7L180.6,252.8L182.8,253.4L184.9,254.7L188.1,256.2L191.3,257.9L192.3,259.1L195.2,260.3L193.2,261.2L191.4,260.9L187.0,261.3L188.6,259.2L186.6,259.1L185.7,257.0L183.5,256.5L181.4,255.6L179.6,255.2L178.1,254.7L177.5,253.9L174.9,255.2L172.7,256.2Z"/>
<path id="c-DJI" d="M462.1,280.0L462.6,281.0L462.7,282.6L461.3,283.0L462.7,283.2L462.7,283.3L462.4,283.2L461.9,284.5L461.6,284.6L461.0,284.1L460.5,284.3L459.2,284.3L459.1,283.5L458.9,282.8L459.7,281.5L460.4,280.4L461.4,280.6Z"/>
<path id="c-DNK" d="M379.9,170.9L379.9,170.7L379.3,170.5L378.8,169.3L378.8,167.0L379.6,165.5L381.3,165.3L383.3,164.0L383.2,165.3L382.9,166.8L384.1,167.2L383.0,167.9L382.3,169.4L381.8,170.2L382.4,171.0L381.5,171.2ZM384.4,169.0L385.9,168.2L387.4,168.1L387.3,169.9L386.4,170.8L384.9,170.2Z"/>
<path id="c-DOM" d="M200.6,261.4L203.3,261.4L204.7,261.8L206.2,262.7L205.2,263.4L207.2,263.7L207.9,264.6L207.0,265.6L204.3,265.0L202.7,265.6L201.6,265.4L200.7,267.2L200.0,266.0L199.6,264.6L200.5,263.0L200.5,261.6L200.5,261.4Z"/>
<path id="c-DZA" d="M346.4,236.4L348.4,235.9L351.5,235.1L352.5,233.5L355.2,232.4L355.3,230.5L356.9,229.5L360.5,229.4L360.7,228.6L359.6,225.2L359.5,222.4L358.5,221.5L360.7,220.2L362.0,219.7L364.4,218.4L366.5,217.6L369.8,217.1L373.0,216.8L375.2,217.1L377.3,216.4L380.1,216.7L381.5,216.7L381.1,218.1L381.5,220.5L381.0,222.7L379.7,224.1L380.0,226.1L381.8,227.7L381.9,228.3L383.2,229.4L384.3,234.0L385.1,236.3L385.2,237.5L384.9,239.7L385.1,240.9L384.8,242.3L385.1,243.9L384.2,245.0L385.5,246.9L385.7,248.0L386.5,249.5L387.5,249.0L389.3,250.2L390.3,251.9L382.7,256.8L376.2,262.0L373.0,263.1L370.5,263.4L370.4,261.7L369.4,261.3L368.0,260.6L367.4,259.3L359.8,253.6L352.4,247.9L343.9,241.9L343.9,240.9L344.0,238.2Z"/>
<path id="c-ECU" d="M183.9,311.0L184.4,312.1L187.1,312.1L188.7,313.0L189.5,313.4L189.5,315.6L188.9,317.1L186.5,319.9L183.7,320.9L182.5,322.0L181.8,325.1L181.1,326.1L179.7,324.7L177.7,324.6L178.4,323.3L178.0,322.0L178.9,319.6L176.5,319.1L177.0,315.7L178.3,313.1L178.6,311.0L180.9,310.2L181.4,309.4L182.0,310.0ZM152.0,315.4L152.7,312.8L153.6,314.9L153.2,315.7Z"/>
<path id="c-EGY" d="M418.1,234.7L418.5,233.1L418.1,232.0L418.8,230.7L418.8,230.5L420.6,230.7L423.5,231.2L426.3,232.1L429.3,231.7L430.4,230.9L431.7,230.7L433.7,230.9L434.6,231.4L436.6,232.0L437.9,231.8L438.9,231.4L440.8,236.1L440.5,238.0L440.0,240.0L439.7,240.7L438.2,239.3L436.6,236.9L435.5,235.0L435.3,236.4L436.6,238.7L438.1,240.6L438.8,242.1L440.2,245.3L442.0,248.4L443.3,250.7L443.9,253.4L446.7,255.7L419.8,255.7L418.9,236.8Z"/>
<path id="c-ERI" d="M447.2,270.6L447.3,268.9L448.0,268.1L449.6,267.6L450.7,266.1L451.1,266.1L452.7,270.1L453.5,272.7L455.2,274.2L457.6,275.8L460.2,278.7L462.1,279.9L462.1,280.0L461.4,280.6L460.4,280.4L459.6,279.5L458.6,278.0L457.5,277.2L456.9,276.3L454.9,275.2L453.3,275.2L452.7,274.6L451.4,275.2L450.0,274.1L449.3,276.0L446.7,275.5L446.4,274.4Z"/>
<path id="c-ESP" d="M348.3,213.5L347.6,212.7L348.3,211.1L347.3,209.7L348.4,209.6L348.7,208.0L348.7,206.2L350.2,204.6L349.4,203.7L348.1,203.9L346.2,204.1L346.0,203.2L344.6,204.0L344.7,203.6L344.6,203.4L344.6,203.1L343.9,201.3L346.0,199.9L346.9,199.1L348.7,199.6L351.4,199.5L353.9,200.0L355.4,199.9L357.2,200.0L359.5,200.1L360.4,200.9L361.8,201.3L364.8,201.8L366.3,202.1L367.0,202.3L369.9,202.4L370.2,202.8L369.9,203.9L367.9,205.2L365.4,206.1L364.8,207.2L363.3,209.0L362.6,210.2L363.6,211.9L362.2,213.2L361.7,215.0L359.4,216.1L358.7,217.2L356.8,217.2L353.8,217.4L351.8,218.7L351.2,219.2L349.7,217.7L349.5,216.8L347.3,216.1L347.1,215.3ZM325.6,239.1L327.3,238.6L326.7,239.9ZM328.1,239.8L329.0,239.7L328.7,240.7ZM331.5,238.2L332.5,238.2L331.6,239.8ZM332.6,236.9L333.4,237.0L332.6,237.7Z"/>
<path id="c-EST" d="M410.8,163.2L409.1,163.7L409.2,162.5L407.7,162.4L407.1,161.4L406.9,160.5L409.1,159.9L411.4,159.5L413.9,159.9L415.3,159.8L414.5,160.9L414.7,162.4L415.6,163.6L414.9,164.4L413.3,164.4Z"/>
<path id="c-ETH" d="M450.0,274.1L451.4,275.2L452.7,274.6L453.3,275.2L454.9,275.2L456.9,276.3L457.5,277.2L458.6,278.0L459.6,279.5L460.4,280.4L459.7,281.5L458.9,282.8L459.1,283.5L459.2,284.3L460.5,284.3L461.0,284.1L461.6,284.6L461.1,285.5L462.0,287.0L462.9,288.2L463.8,289.1L471.4,292.2L473.3,292.2L467.0,300.1L464.0,300.2L462.0,302.0L460.5,302.1L459.9,302.9L458.3,302.9L457.3,302.0L455.2,303.1L454.6,304.2L453.0,304.0L452.5,303.7L452.0,303.7L451.3,303.7L448.3,301.5L446.7,301.5L445.9,300.6L444.7,299.0L443.3,295.9L442.2,295.3L441.8,294.2L440.6,293.0L439.2,292.8L439.9,291.3L441.2,291.2L441.5,290.5L441.7,288.4L442.0,285.4L443.1,284.6L443.3,283.6L444.2,281.9L445.5,280.3L446.4,277.7L446.7,275.5L449.3,276.0Z"/>
<path id="c-FIN" d="M403.8,141.4L402.6,140.3L399.9,138.7L397.8,137.7L398.9,137.2L401.0,138.5L403.5,138.3L405.5,138.7L406.6,137.8L407.3,135.8L409.5,135.4L411.8,136.3L411.9,137.7L411.3,138.9L414.3,140.7L413.3,142.5L415.7,145.2L415.5,147.3L417.4,148.9L416.6,149.7L419.9,151.7L417.6,155.4L414.3,157.2L412.9,157.3L409.3,158.1L405.8,158.9L404.3,157.6L402.4,156.4L402.4,155.0L401.7,152.9L401.1,151.5L403.6,149.6L406.4,147.3L407.8,146.6L407.3,145.6L405.3,145.0L404.1,143.6Z"/>
<path id="c-FJI" d="M767.0,359.3L768.8,358.4L770.1,359.5L768.7,360.7L766.9,360.5ZM770.3,356.9L772.9,355.6L774.1,355.4L773.3,356.7L770.9,357.5Z"/>
<path id="c-FRA" d="M366.3,202.1L364.8,201.8L361.8,201.3L360.4,200.9L359.5,200.1L360.2,199.7L360.7,196.9L361.0,194.6L360.8,192.8L359.2,191.3L358.8,190.3L357.6,189.5L356.2,189.0L354.4,188.7L353.7,187.3L355.4,186.4L357.2,186.2L359.3,186.7L360.3,186.6L360.1,185.2L359.5,183.9L361.1,184.8L363.5,184.5L363.7,183.9L366.3,182.9L366.5,181.4L367.1,180.8L368.4,180.4L368.6,181.1L369.6,181.2L370.5,181.9L371.6,182.4L371.7,183.3L372.9,182.8L373.0,183.7L375.0,184.3L376.1,184.5L376.9,185.3L378.4,185.4L379.9,185.8L379.1,186.7L378.6,188.0L378.8,189.3L377.6,190.0L376.5,191.4L375.8,191.8L375.6,192.8L375.9,192.9L376.1,192.6L377.3,192.3L377.3,192.9L377.8,193.5L377.3,193.8L377.8,194.6L377.1,195.6L377.8,195.9L377.6,197.4L377.9,197.8L379.2,198.1L378.9,199.0L378.3,199.4L377.1,200.5L374.6,200.3L372.9,200.0L371.7,199.7L370.6,200.3L369.7,201.3L369.9,202.4L367.0,202.3ZM381.4,202.6L383.0,201.0L383.4,203.3L382.7,205.2L381.9,204.6Z"/>
<path id="c-GAB" d="M394.0,309.7L395.7,309.4L396.3,310.0L395.3,313.0L396.4,314.5L396.6,316.6L396.3,318.3L395.6,319.5L393.6,319.4L392.3,318.2L392.2,319.3L390.6,319.6L389.8,320.3L390.7,322.0L389.0,323.4L388.9,323.3L386.4,320.4L384.8,318.1L383.6,314.9L384.8,312.6L385.2,311.5L385.5,310.5L385.5,310.4L386.0,310.3L389.4,310.3L389.3,307.2L390.4,307.0L391.8,307.4L393.2,307.0L393.5,307.2L393.3,308.3Z"/>
<path id="c-GBR" d="M351.9,183.0L354.3,180.6L355.0,180.1L357.3,180.1L357.9,179.4L357.0,179.6L355.0,179.3L353.2,178.9L354.8,177.6L355.2,176.9L354.1,176.1L354.9,175.1L354.3,174.6L356.9,174.8L357.4,174.5L357.7,172.9L356.3,171.9L357.3,170.8L353.8,171.4L353.7,170.2L354.3,169.4L353.9,168.3L352.5,169.8L352.6,167.7L351.5,166.5L352.5,165.0L352.4,163.7L353.8,162.0L357.1,161.8L357.6,161.8L356.0,163.8L355.4,164.6L357.1,164.1L359.7,164.2L359.9,164.6L359.3,165.5L358.5,166.8L358.0,167.4L357.0,168.2L358.5,168.2L359.7,169.0L360.4,170.7L361.2,171.7L362.5,172.4L363.1,172.9L363.6,174.1L362.9,174.1L364.0,175.4L363.9,175.9L364.3,175.8L365.8,175.8L366.7,176.9L366.5,178.0L365.7,178.6L365.1,179.3L364.5,179.5L366.1,179.8L366.0,180.4L365.2,180.9L363.9,181.3L361.7,181.3L360.7,181.3L359.3,181.6L358.4,181.8L357.3,181.4L356.3,182.3L356.0,182.7L354.9,182.3L353.2,183.0L352.9,183.3ZM351.3,172.9L350.5,173.0L349.3,172.3L348.7,172.8L347.5,172.0L348.0,171.8L348.8,171.3L349.3,170.4L349.4,169.9L350.8,170.1L351.7,170.2L352.5,171.3L352.7,172.2L351.7,173.0Z"/>
<path id="c-GEO" d="M452.0,200.5L455.2,202.1L457.7,201.8L459.3,202.3L461.2,203.9L461.0,204.6L461.7,206.1L458.4,205.4L458.2,205.5L455.2,205.9L453.1,205.0L451.0,204.8L450.9,204.7L451.1,203.3L449.2,201.0L446.9,200.0L448.0,199.6Z"/>
<path id="c-GHA" d="M364.2,286.5L364.2,288.4L364.4,290.5L364.9,291.4L364.4,293.8L364.6,295.1L365.2,296.7L365.6,297.4L364.5,298.1L362.8,298.8L359.4,300.6L358.5,300.7L356.7,300.0L356.8,299.0L355.8,296.8L356.4,293.8L357.4,291.7L356.8,287.9L356.5,286.0L356.5,284.5L360.5,284.4L361.6,284.6L362.3,284.1L363.3,284.3L363.2,285.2Z"/>
<path id="c-GIN" d="M339.2,290.3L338.8,289.7L338.9,288.9L338.4,287.8L337.7,286.9L335.9,286.9L335.4,287.4L334.7,287.4L334.3,288.0L334.1,288.7L332.8,289.9L332.7,289.8L332.7,289.6L331.8,288.3L329.8,285.7L328.8,284.5L328.6,284.3L329.6,283.0L330.3,283.1L330.9,282.6L331.4,282.6L331.8,282.3L331.6,281.4L331.8,281.1L331.9,280.3L333.0,280.3L334.6,280.9L335.3,280.6L336.6,280.8L337.4,281.6L338.4,281.3L339.0,282.0L340.0,282.2L340.6,281.6L341.3,281.3L341.9,280.9L342.4,281.0L342.9,281.6L343.1,282.3L344.1,283.4L343.6,284.0L343.5,284.9L344.0,284.6L344.3,284.9L344.1,285.7L344.8,286.5L344.4,286.7L344.2,287.6L344.7,288.6L345.3,290.7L344.4,291.0L344.2,291.4L344.4,291.9L344.2,293.0L343.9,293.0L343.2,293.0L342.7,294.0L342.1,294.0L341.7,293.5L341.8,292.4L340.8,290.8L340.2,291.1L339.8,291.2L339.1,291.3Z"/>
<path id="c-GNQ" d="M386.0,310.3L385.5,310.4L385.9,309.2L385.9,307.2L389.3,307.2L389.4,310.3Z"/>
<path id="c-GRC" d="M407.8,206.6L409.6,205.9L411.8,205.3L415.0,204.8L416.8,205.5L418.9,204.4L419.5,205.3L418.5,206.8L418.5,207.0L416.3,206.5L415.0,206.5L414.1,207.7L415.0,208.3L413.8,208.9L412.8,208.3L411.9,207.5L411.4,208.8L412.2,210.3L413.1,211.1L412.3,211.9L413.7,212.7L414.9,213.5L415.1,214.9L414.0,214.1L412.7,214.2L413.3,215.5L413.4,218.0L412.0,218.0L411.0,216.6L410.2,217.1L409.1,214.8L409.9,213.5L408.6,213.2L407.6,211.6L406.4,209.7L405.9,209.6L407.2,208.5ZM414.4,220.5L416.5,220.7L420.5,221.3L420.3,221.8L417.1,221.9L414.6,221.1Z"/>
<path id="c-GTM" d="M153.9,271.2L156.8,271.2L156.4,270.1L155.6,269.0L154.9,268.1L156.0,268.1L156.1,266.6L160.4,266.6L159.7,271.6L160.3,271.6L161.2,272.1L161.7,272.0L161.7,272.1L160.6,273.2L159.5,273.8L159.3,275.0L158.9,275.5L158.4,276.1L157.0,277.2L155.0,276.8L152.4,275.3L152.3,275.1L152.6,273.3ZM160.3,271.6L160.3,271.4L160.6,271.4L160.8,271.1Z"/>
<path id="c-GUY" d="M222.4,295.6L224.4,294.6L223.5,293.4L225.7,291.4L228.5,294.8L231.5,297.4L231.6,297.5L231.6,297.6L231.2,299.5L229.8,301.1L229.5,302.7L230.4,304.2L231.3,305.8L232.9,308.0L230.5,308.7L228.2,309.7L227.1,309.7L225.5,308.3L224.9,306.8L225.3,304.2L225.8,302.9L224.7,301.4L225.1,299.9L223.3,299.5L221.8,297.6Z"/>
<path id="c-HND" d="M159.5,273.8L160.6,273.2L161.7,272.1L161.8,272.0L163.1,271.6L166.9,271.9L170.3,271.9L172.9,274.0L172.8,274.1L171.2,274.6L169.1,274.5L167.1,276.7L166.2,276.4L164.7,277.2L164.7,278.4L163.7,279.2L163.0,279.4L162.8,278.4L162.1,278.7L162.2,278.1L162.5,277.1L161.6,276.6L160.7,276.6L158.9,275.5L159.3,275.0Z"/>
<path id="c-HRV" d="M394.9,194.6L395.5,192.8L397.2,192.1L398.0,192.6L399.7,193.5L402.2,193.5L402.8,195.1L403.5,195.4L402.8,196.2L400.5,195.6L398.2,195.2L396.0,195.4L395.9,196.4L397.0,197.9L399.4,200.0L400.2,200.9L402.0,202.3L402.2,202.6L400.0,201.2L397.8,199.7L395.1,198.2L394.1,195.9L392.8,195.1L392.1,196.4L391.2,194.6L391.2,194.7L391.4,194.6L393.4,194.3Z"/>
<path id="c-HUN" d="M396.8,189.7L397.3,189.0L398.1,189.0L398.1,188.2L399.5,188.9L401.5,188.7L403.1,187.7L404.8,187.0L407.3,187.3L408.2,187.2L409.8,188.3L408.2,189.7L406.8,192.3L404.9,193.0L403.5,192.9L402.2,193.5L399.7,193.5L398.0,192.6L397.2,192.1L396.2,191.1L397.0,190.8Z"/>
<path id="c-IRL" d="M351.5,175.8L351.1,177.4L350.8,177.8L348.5,178.0L346.9,178.6L344.5,179.5L343.9,179.5L342.9,178.5L342.8,177.8L344.2,176.8L344.7,175.4L345.6,175.1L343.8,174.5L343.4,174.6L344.1,172.7L343.7,173.2L344.1,172.4L346.6,172.4L346.5,171.5L347.1,170.4L349.1,169.8L349.4,169.9L349.3,170.4L348.8,171.3L348.0,171.8L347.5,172.0L348.7,172.8L349.3,172.3L350.5,173.0L351.3,172.9L351.7,173.0L351.6,173.0L351.2,173.9L351.2,174.8Z"/>
<path id="c-IRN" d="M469.5,233.5L468.7,232.2L468.7,230.1L467.5,228.6L464.5,227.1L464.6,226.5L463.1,225.4L462.5,224.4L463.6,221.5L463.8,219.7L461.7,219.2L459.9,216.2L458.3,212.9L458.1,210.3L458.8,209.6L460.6,211.4L462.9,211.7L465.2,209.7L466.5,210.3L466.1,211.9L468.1,212.8L468.2,213.2L468.8,215.3L471.0,215.5L473.5,217.4L476.8,217.4L479.9,216.7L479.5,215.7L481.4,215.4L482.5,213.8L486.1,213.3L489.0,214.9L491.0,215.3L493.9,217.5L495.5,217.5L496.2,220.1L496.5,222.6L495.5,224.1L496.0,226.5L497.2,229.1L497.5,230.9L499.6,231.2L499.9,232.6L498.3,235.2L500.5,238.0L503.1,239.4L503.6,242.0L504.8,242.3L504.8,243.6L502.2,244.4L501.6,247.4L501.7,247.5L499.1,247.0L495.8,246.8L492.3,246.0L490.9,243.4L489.4,242.3L486.4,243.4L485.3,243.7L482.5,243.2L480.5,241.4L478.2,240.3L476.3,237.7L474.6,234.8L471.8,233.8L471.1,235.0L471.0,235.0L470.9,235.0Z"/>
<path id="c-IRQ" d="M469.6,234.8L468.5,234.8L466.8,237.2L466.5,237.3L462.6,236.9L456.3,232.0L452.3,229.7L449.6,229.2L448.3,226.0L452.8,223.3L453.0,220.2L452.4,217.9L454.7,216.3L456.0,215.7L459.9,216.2L461.7,219.2L463.8,219.7L463.6,221.5L462.5,224.4L463.1,225.4L464.6,226.5L464.5,227.1L467.5,228.6L468.7,230.1L468.7,232.2L469.5,233.5L470.9,235.0L470.0,235.1L469.8,235.0Z"/>
<path id="c-ISL" d="M323.0,149.6L324.4,148.4L321.1,147.2L324.8,146.1L320.5,145.7L323.6,143.5L325.8,145.7L328.6,144.3L332.1,144.1L335.3,143.4L338.2,143.9L337.8,145.4L339.5,146.4L337.7,148.2L334.9,149.4L331.2,150.4L328.6,150.3L326.0,149.5Z"/>
<path id="c-ISR" d="M439.5,229.9L440.0,227.5L440.3,226.7L441.4,226.3L441.8,227.7L441.5,228.6L441.7,230.3L441.6,232.0L441.3,234.0L440.9,236.0L440.8,236.1L438.9,231.4Z"/>
<path id="c-ITA" d="M377.9,197.8L377.6,197.4L377.8,195.9L377.1,195.6L377.8,194.6L377.3,193.8L377.8,193.5L379.5,193.5L380.6,192.7L380.6,192.2L381.8,193.8L382.4,192.0L383.9,192.7L384.0,191.8L384.7,191.1L385.8,191.4L388.1,190.6L388.7,191.5L391.4,192.0L390.8,192.8L391.3,193.8L391.5,194.1L390.3,194.2L388.7,195.1L389.1,197.7L391.5,199.5L393.1,202.3L395.3,203.9L397.4,204.0L396.9,204.9L399.3,205.9L402.6,208.4L402.4,209.3L401.3,208.0L399.8,207.5L398.6,208.5L398.5,209.6L400.0,211.4L398.9,212.2L398.7,213.2L397.8,214.1L396.9,214.1L396.9,213.5L397.8,211.6L397.4,210.1L396.5,208.7L395.2,208.0L393.9,207.2L393.2,206.6L391.8,205.5L389.9,205.0L389.0,204.1L387.9,202.8L386.4,202.3L385.3,201.0L384.8,199.7L384.3,198.5L383.5,198.2L381.8,197.4L380.4,198.6L378.9,199.0L379.2,198.1ZM391.5,194.1L391.8,194.3L391.4,194.6L391.2,194.7L391.2,194.6ZM389.9,214.0L392.1,213.5L396.9,213.3L395.8,215.5L395.9,217.5L394.4,217.1L391.1,215.1ZM380.7,206.5L382.8,205.5L384.1,207.5L383.8,210.9L382.5,211.4L381.3,211.1L381.1,208.0Z"/>
<path id="c-KEN" d="M446.7,301.5L448.3,301.5L451.3,303.7L452.0,303.7L452.5,303.7L453.0,304.0L454.6,304.2L455.2,303.1L457.3,302.0L458.3,302.9L459.9,302.9L457.9,305.8L458.0,315.3L459.2,317.4L458.0,318.3L456.3,319.9L455.6,321.7L454.7,323.8L453.7,325.3L450.5,322.7L450.3,321.2L442.0,315.9L441.6,315.6L441.6,312.8L442.2,311.7L443.4,310.0L444.2,308.1L443.2,305.1L442.9,303.8L441.8,302.0L443.1,300.4L444.7,299.0L445.9,300.6Z"/>
<path id="c-KGZ" d="M517.1,207.7L518.2,206.6L516.1,205.9L512.2,205.0L512.5,203.0L513.8,201.5L517.7,202.4L518.5,200.5L522.5,201.3L529.3,201.5L532.1,203.1L528.9,205.2L525.9,206.3L523.8,207.5L520.6,208.7L520.5,210.2L516.6,210.6L513.9,209.8L513.4,208.3L515.8,208.4Z"/>
<path id="c-KHM" d="M598.2,277.5L599.4,275.7L604.0,275.8L605.8,275.7L609.3,274.7L609.5,277.9L610.0,280.9L607.4,281.9L606.3,283.6L604.7,284.5L603.3,285.9L601.5,285.4L600.0,283.6L599.5,282.6L597.8,278.5Z"/>
<path id="c-KWT" d="M468.8,237.4L466.8,237.2L468.5,234.8L469.6,234.8L469.8,235.0L470.0,235.1L469.7,235.1L469.7,236.4L470.5,237.7L471.1,238.6L469.5,238.7Z"/>
<path id="c-LAO" d="M592.1,256.9L593.5,257.9L594.0,254.7L596.1,256.7L598.6,258.8L600.4,259.9L599.4,262.2L602.4,264.3L606.4,269.8L608.7,272.7L609.3,274.7L605.8,275.7L604.0,275.8L604.7,275.5L604.6,272.9L602.3,270.1L601.9,267.7L599.8,265.4L597.1,266.5L595.6,265.6L593.2,267.2L593.1,262.0L591.6,262.2L590.2,260.0L591.1,258.7Z"/>
<path id="c-LBN" d="M443.1,223.9L442.0,225.4L441.4,226.3L440.3,226.7L440.9,224.7L441.6,222.7L442.8,223.0Z"/>
<path id="c-LBR" d="M344.0,295.1L343.5,296.2L344.1,297.0L344.9,297.1L345.8,298.2L345.9,299.2L345.7,299.6L345.5,301.7L342.5,299.8L340.2,297.7L338.4,296.7L337.0,295.3L337.5,294.6L337.6,293.8L338.7,292.4L339.8,291.2L340.2,291.1L340.8,290.8L341.8,292.4L341.7,293.5L342.1,294.0L342.7,294.0L343.2,293.0L343.9,293.0L343.7,293.8Z"/>
<path id="c-LBY" d="M385.5,232.3L385.3,231.2L386.7,230.2L387.4,229.4L388.4,228.6L388.5,226.6L390.3,227.4L392.3,227.3L394.7,228.0L396.7,228.6L397.5,230.9L399.7,231.7L402.0,232.5L404.9,234.0L406.7,233.8L407.5,232.2L407.5,229.1L409.0,227.8L410.9,227.1L414.1,227.9L414.6,229.1L416.1,229.6L418.7,230.5L418.8,230.5L418.8,230.7L418.1,232.0L418.5,233.1L418.1,234.7L418.9,236.8L419.8,255.7L420.0,260.9L417.4,260.9L417.4,262.0L408.2,257.0L399.1,252.0L397.1,253.1L396.8,253.5L395.2,254.4L393.9,253.0L390.3,251.9L389.3,250.2L387.5,249.0L386.5,249.5L385.7,248.0L385.5,246.9L384.2,245.0L385.1,243.9L384.8,242.3L385.1,240.9L384.9,239.7L385.2,237.5L385.1,236.3L384.3,234.0L385.4,233.4Z"/>
<path id="c-LKA" d="M547.7,287.5L550.2,290.7L551.8,293.8L551.6,296.1L549.1,297.6L547.8,296.9L547.3,295.1L547.0,291.7L547.1,289.6Z"/>
<path id="c-LTU" d="M406.9,170.6L404.3,170.1L403.8,169.9L403.7,169.0L403.5,168.0L405.2,167.2L409.1,167.5L411.0,167.7L414.3,169.0L414.5,169.9L413.1,170.9L413.0,172.4L410.8,173.4L409.0,173.3L407.5,172.3L407.1,170.8Z"/>
<path id="c-LUX" d="M375.6,182.8L376.3,183.7L376.1,184.5L375.0,184.3L374.8,183.5Z"/>
<path id="c-LVA" d="M409.1,167.5L405.2,167.2L403.5,168.0L403.3,167.0L403.8,165.0L404.2,164.4L405.9,164.0L407.1,164.9L408.6,165.8L409.3,165.0L409.1,163.7L410.8,163.2L413.3,164.4L414.9,164.4L415.6,164.9L417.1,167.9L416.2,168.7L414.3,169.0L411.0,167.7Z"/>
<path id="c-MDA" d="M422.5,188.3L424.6,191.3L425.2,192.3L422.9,193.3L421.5,194.7L421.4,193.3L420.8,191.0L419.3,189.5L417.2,187.6L419.6,187.1Z"/>
<path id="c-MEX" d="M111.0,228.3L118.1,231.4L124.5,231.4L124.9,230.2L128.6,230.3L129.4,231.2L131.2,233.3L131.5,235.9L132.2,236.7L133.9,237.5L135.4,235.6L136.4,235.1L138.1,235.4L139.2,236.5L139.6,238.2L139.8,239.3L141.1,241.4L141.4,244.2L143.2,245.0L145.5,245.4L143.5,249.2L142.4,254.4L143.1,258.8L144.6,262.7L146.9,264.3L148.5,265.7L151.8,265.1L154.2,264.3L156.5,263.5L158.0,261.2L158.6,258.3L161.9,257.5L165.3,257.0L166.8,257.8L165.1,260.4L164.6,262.7L163.2,264.8L163.2,265.0L163.1,265.0L162.5,264.9L161.2,266.4L160.4,266.3L160.4,266.6L156.1,266.6L156.0,268.1L154.9,268.1L155.6,269.0L156.4,270.1L156.8,271.2L153.9,271.2L152.6,273.3L152.3,275.1L149.8,271.9L147.6,270.8L146.0,271.1L142.9,272.1L139.6,270.8L135.7,269.3L132.2,267.2L129.0,265.4L126.4,263.3L124.5,260.9L125.1,257.0L124.2,253.1L121.5,249.2L118.7,246.3L118.3,243.4L116.7,240.6L114.2,237.4L113.4,232.7L112.9,230.9L110.5,230.4L109.6,232.2L110.2,236.1L111.5,239.3L112.8,242.7L113.7,245.8L114.7,249.2L116.0,251.8L116.3,252.8L115.3,253.4L114.7,251.8L112.5,249.2L111.5,246.6L110.3,244.0L107.5,241.9L106.7,240.6L108.8,239.5L108.7,237.4L107.0,234.3L106.3,232.2L106.1,230.1L105.9,228.3L105.9,228.2L111.3,227.7Z"/>
<path id="c-MKD" d="M406.7,203.9L408.5,203.0L410.3,202.8L411.6,203.7L411.8,205.3L409.6,205.9L407.8,206.6L406.6,205.4Z"/>
<path id="c-MLI" d="M337.0,279.8L336.8,278.8L336.0,278.1L335.6,276.6L335.5,275.0L336.2,274.5L336.6,272.9L337.4,272.9L339.0,273.6L341.1,273.3L341.5,272.7L350.6,272.7L351.2,270.8L350.8,270.5L349.8,259.3L348.8,248.0L352.4,247.9L359.8,253.6L367.4,259.3L368.0,260.6L369.4,261.3L370.4,261.7L370.5,263.4L373.0,263.1L373.0,269.1L371.8,270.9L371.6,272.5L369.6,272.9L366.5,273.1L365.6,274.0L364.1,274.1L362.7,274.2L362.1,273.7L360.9,274.0L358.7,275.1L358.3,275.9L356.5,277.1L356.2,277.8L355.2,278.3L354.1,278.0L353.5,278.6L353.1,280.4L351.3,282.5L351.4,283.4L350.7,284.5L350.9,286.0L349.9,286.4L349.4,286.7L349.0,285.7L348.4,285.9L348.0,285.9L347.6,286.6L345.8,286.6L345.1,286.2L344.8,286.5L344.1,285.7L344.3,284.9L344.0,284.6L343.5,284.9L343.6,284.0L344.1,283.4L343.1,282.3L342.9,281.6L342.4,281.0L341.9,280.9L341.3,281.3L340.6,281.6L340.0,282.2L339.0,282.0L338.4,281.3L337.4,281.6L336.6,280.8L336.9,280.6Z"/>
<path id="c-MMR" d="M572.6,255.8L573.9,255.0L573.6,250.6L575.4,250.6L575.8,246.6L576.4,243.7L578.3,241.9L580.4,242.4L580.3,239.4L583.7,241.2L584.6,245.5L582.6,248.5L583.1,250.7L585.5,250.2L587.5,252.8L587.5,255.3L589.8,257.0L592.1,256.9L591.1,258.7L590.2,260.0L588.8,260.0L587.7,261.6L585.3,262.0L584.8,264.7L588.4,270.6L587.7,273.4L590.3,277.2L590.8,280.2L592.0,282.3L590.2,286.1L589.9,287.0L589.6,283.1L589.4,280.5L588.4,277.1L587.4,274.5L586.3,271.4L585.2,269.3L583.9,268.5L582.7,269.8L581.2,271.9L578.6,271.4L578.5,267.4L578.0,264.8L576.0,262.2L574.2,260.7L572.4,258.8L572.3,258.7L572.0,257.5ZM589.9,287.0L590.0,287.1L589.9,287.2Z"/>
<path id="c-MNE" d="M403.4,199.7L405.3,201.0L405.4,201.7L405.4,202.2L404.4,202.2L404.2,204.0L402.2,202.6L402.0,202.3L402.4,200.4Z"/>
<path id="c-MNG" d="M547.4,181.1L552.8,183.0L558.7,183.8L559.5,181.8L558.0,180.6L558.5,177.9L566.1,179.8L567.5,181.6L573.7,182.0L576.7,182.4L581.7,184.8L586.5,185.3L590.4,184.2L593.3,182.7L597.4,183.5L598.4,187.7L599.2,189.0L603.1,189.1L604.1,188.3L608.2,190.4L608.6,191.7L603.9,191.8L602.8,194.1L599.7,194.9L595.0,195.8L596.5,199.2L593.3,202.4L584.6,204.5L574.8,201.9L565.4,201.7L561.6,197.7L556.9,196.0L551.2,195.4L549.8,191.8L546.3,188.6L541.4,186.7L539.7,185.3L543.2,183.4Z"/>
<path id="c-MOZ" d="M447.1,343.7L447.7,343.3L449.3,343.3L450.2,342.5L451.5,342.6L454.1,341.5L455.9,340.1L456.1,340.5L456.5,343.1L456.1,347.0L456.4,350.9L456.5,353.5L454.1,356.1L449.9,358.2L447.3,360.1L445.1,362.7L442.5,364.8L441.9,367.1L443.4,369.2L443.5,371.8L443.3,375.2L441.5,377.5L437.4,379.1L436.4,380.9L436.9,383.2L436.9,383.3L436.7,383.3L436.8,382.9L435.1,382.8L435.0,381.7L434.7,380.5L434.6,379.6L435.1,376.7L434.7,374.8L433.8,371.2L436.3,368.2L437.0,366.3L437.3,366.1L437.7,364.5L437.3,363.8L437.5,361.8L438.1,360.0L438.2,356.7L437.1,355.9L436.0,355.7L435.5,355.0L434.5,354.5L432.6,354.5L432.5,353.6L432.3,351.7L439.3,349.5L440.6,350.8L441.2,350.6L442.1,351.2L442.2,352.3L441.7,353.5L441.8,355.3L443.2,356.9L444.0,355.1L445.0,354.6L444.9,351.2L444.1,349.3L443.8,349.1L443.8,348.8L443.2,345.7L443.5,343.1L444.4,342.9Z"/>
<path id="c-MWI" d="M444.9,351.2L445.0,354.6L444.0,355.1L443.2,356.9L441.8,355.3L441.7,353.5L442.2,352.3L442.1,351.2L441.2,350.6L440.6,350.8L439.3,349.5L438.2,348.9L439.0,346.4L439.7,345.6L439.3,343.4L439.8,341.3L440.2,340.6L439.7,338.4L438.7,337.2L440.9,337.7L441.3,338.3L441.5,340.2L441.7,342.6L441.8,345.5L442.4,348.6L443.0,350.5L444.1,350.7L443.8,349.1L444.1,349.3Z"/>
<path id="c-NAM" d="M392.5,357.3L394.0,357.4L395.3,358.5L395.7,358.4L404.9,358.3L406.5,359.5L412.0,359.9L416.2,358.8L418.0,358.2L419.5,358.4L420.4,359.0L420.8,359.4L420.4,359.2L419.1,359.8L418.4,359.8L416.9,360.8L416.1,359.9L412.6,360.6L410.9,360.7L410.5,370.0L408.3,370.1L408.0,377.7L407.6,387.4L405.6,388.7L404.3,388.9L403.0,388.4L402.0,388.2L401.7,387.1L400.8,386.4L399.9,387.4L398.4,384.8L396.9,380.9L395.9,375.7L396.0,372.3L393.9,367.9L391.7,362.7L390.2,358.2L391.2,357.7Z"/>
<path id="c-NER" d="M398.3,258.2L398.4,259.0L399.3,259.9L398.9,261.0L398.1,266.3L398.1,269.7L395.2,272.2L394.3,275.6L394.4,277.4L393.3,277.6L391.5,279.1L389.7,278.3L388.5,278.2L387.8,278.5L386.5,278.5L385.1,279.6L384.0,279.6L381.2,278.3L380.1,278.9L378.9,278.9L378.1,277.9L375.8,276.9L373.3,277.2L372.7,277.8L372.4,279.3L371.7,280.4L371.6,282.7L369.8,281.2L369.0,281.2L368.2,281.9L368.3,280.1L365.6,279.6L365.6,278.3L364.3,276.6L364.0,275.4L364.1,274.1L365.6,274.0L366.5,273.1L369.6,272.9L371.6,272.5L371.8,270.9L373.0,269.1L373.0,263.1L376.2,262.0L382.7,256.8L390.3,251.9L393.9,253.0L395.2,254.4L396.8,253.5L397.1,253.1L397.5,257.5Z"/>
<path id="c-NGA" d="M372.4,279.3L372.7,277.8L373.3,277.2L375.8,276.9L378.1,277.9L378.9,278.9L380.1,278.9L381.2,278.3L384.0,279.6L385.1,279.6L386.5,278.5L387.8,278.5L388.5,278.2L389.7,278.3L391.5,279.1L393.3,277.6L394.4,277.4L395.9,279.7L395.8,280.5L396.7,281.6L396.5,282.1L396.4,282.9L394.5,284.9L393.9,286.6L393.6,287.9L393.1,288.5L392.6,290.3L391.4,291.4L391.1,292.7L390.6,293.8L390.4,294.9L388.8,295.8L387.5,294.7L386.6,294.7L385.2,296.3L384.6,296.3L383.5,298.8L382.9,300.7L382.8,300.9L382.9,300.9L382.4,301.4L379.7,301.6L377.1,301.9L375.8,299.5L373.7,296.7L371.1,296.4L369.5,296.5L369.6,292.6L369.6,290.9L370.0,289.3L370.7,288.5L371.8,286.9L371.6,286.1L372.0,285.1L371.5,283.5L371.6,282.7L371.7,280.4Z"/>
<path id="c-NIC" d="M164.7,278.4L164.7,277.2L166.2,276.4L167.1,276.7L169.1,274.5L171.2,274.6L172.8,274.1L172.4,276.6L171.6,280.5L171.1,284.4L171.1,284.6L169.9,284.9L168.8,284.3L166.7,283.9L166.5,284.2L166.5,284.1L164.8,281.8L163.0,279.4L163.7,279.2Z"/>
<path id="c-NLD" d="M374.9,180.3L373.4,179.9L373.0,179.5L371.7,179.7L370.0,179.7L370.2,179.5L371.2,178.3L372.2,177.1L372.6,175.8L373.7,175.4L374.1,174.9L375.4,174.6L376.8,174.6L377.4,175.0L377.2,176.5L376.5,176.8L377.2,177.5L376.5,178.4L375.1,178.6L375.4,180.1L375.3,181.3L374.7,181.1Z"/>
<path id="c-NOR" d="M411.9,137.7L411.8,136.3L409.5,135.4L407.3,135.8L406.6,137.8L405.5,138.7L403.5,138.3L401.0,138.5L398.9,137.2L397.8,137.7L397.4,137.7L397.0,139.3L393.9,138.9L392.6,139.8L391.0,141.1L391.4,142.0L390.1,143.9L388.4,144.3L388.7,146.1L387.4,147.7L388.2,148.0L387.9,148.7L386.0,149.1L384.7,150.1L385.1,151.5L385.1,152.4L385.4,154.5L386.8,155.3L385.8,156.2L386.3,158.1L385.3,158.8L385.2,160.2L384.1,160.9L383.6,160.5L382.9,158.9L382.6,160.2L381.4,160.9L380.1,162.1L378.3,163.1L376.5,163.3L373.9,161.7L372.9,159.7L372.7,157.6L372.2,155.9L372.3,153.8L374.4,152.4L375.8,151.5L379.0,150.1L380.9,149.8L381.0,149.1L383.1,147.0L384.6,145.7L385.1,144.3L386.0,142.7L387.6,141.6L388.8,140.3L390.7,138.9L392.1,137.6L394.8,136.3L397.3,135.4L399.6,134.8L402.1,134.1L405.4,133.2L408.4,133.4L410.1,133.9L412.7,134.3L414.6,135.0L413.5,135.8L414.7,136.2L413.5,136.4ZM378.6,116.9L380.2,118.4L383.4,119.5L385.2,121.1L388.4,122.1L388.9,121.1L390.9,119.9L394.9,118.0L391.1,117.4L392.1,116.0L387.7,115.4L383.5,115.8ZM388.4,115.3L392.3,116.5L398.1,116.7L402.0,115.4L396.0,114.6L391.8,114.7ZM394.4,120.1L399.7,120.3L397.2,118.6L394.3,118.8Z"/>
<path id="c-NZL" d="M740.2,402.9L740.6,404.4L742.4,404.9L741.0,409.1L742.8,408.3L742.3,410.7L743.8,412.0L747.5,411.3L744.6,414.0L743.4,415.3L740.7,416.1L740.9,416.5L736.8,419.7L733.3,421.6L732.8,420.8L735.8,417.3L734.4,415.6L737.1,414.3L739.3,411.7L740.2,409.6L740.3,408.1L739.8,404.9ZM730.5,418.7L729.7,420.7L732.3,420.0L730.8,421.9L728.3,423.6L724.5,425.9L724.1,427.2L722.0,427.5L719.1,428.8L716.1,431.3L714.7,432.6L711.5,434.2L708.4,434.4L707.4,433.4L705.7,433.3L708.1,430.8L711.6,429.3L713.9,427.7L718.9,425.7L723.0,423.6L725.1,421.9L728.3,419.5Z"/>
<path id="c-OMN" d="M489.0,245.1L489.6,244.4L489.9,246.3L489.4,246.2ZM488.0,260.9L489.1,255.7L487.9,253.9L488.9,250.5L489.2,248.4L489.9,248.0L489.9,247.9L490.6,249.2L492.8,250.9L495.4,251.5L498.3,254.3L497.7,257.3L496.5,259.4L494.4,260.4L494.4,263.5L492.2,264.6L491.4,266.3L489.3,267.7L486.6,268.7L484.4,269.7L481.4,263.5Z"/>
<path id="c-OWID_KOS" d="M408.1,201.4L408.5,203.0L406.7,203.9L405.4,202.2L405.4,201.7L406.4,200.5Z"/>
<path id="c-PAN" d="M172.6,289.4L173.4,288.1L174.7,289.6L176.9,290.1L179.3,289.1L180.5,288.1L182.8,288.6L185.2,290.4L185.3,290.5L185.6,292.4L184.8,293.4L183.9,294.3L183.2,293.5L183.1,291.7L182.9,291.2L181.6,289.7L180.2,289.9L179.2,291.4L178.1,293.8L176.7,294.1L176.3,293.0L174.6,291.7L172.5,291.5L172.7,290.0Z"/>
<path id="c-PER" d="M195.2,326.5L194.6,328.9L193.4,331.1L192.9,332.8L195.4,336.6L196.8,337.9L197.3,339.2L201.2,337.8L201.2,341.8L203.4,341.7L205.8,345.7L205.4,346.5L205.5,350.4L204.7,351.7L205.3,352.9L204.8,353.8L205.8,355.4L204.6,358.2L205.0,358.8L204.4,360.3L203.2,361.0L201.0,359.3L197.5,356.7L194.4,354.8L191.4,353.0L188.9,349.6L188.2,347.5L186.4,344.7L184.9,341.8L183.5,339.2L182.5,336.6L181.4,334.2L179.5,331.4L177.8,329.3L176.1,328.8L176.0,326.1L175.8,324.8L177.3,322.5L178.0,322.0L178.4,323.3L177.7,324.6L179.7,324.7L181.1,326.1L181.8,325.1L182.5,322.0L183.7,320.9L186.5,319.9L188.9,317.1L189.5,315.6L189.5,313.4L191.5,314.4L193.4,316.5L194.8,319.2L197.8,318.8L201.5,320.1L201.1,323.1L201.9,324.1L199.6,324.6Z"/>
<path id="c-PNG" d="M692.2,321.4L694.7,322.2L696.7,323.3L699.5,326.7L701.7,328.5L703.7,329.0L703.9,330.6L702.0,330.7L703.0,332.7L704.4,334.2L705.2,336.6L706.7,336.8L708.1,339.2L710.1,339.8L707.9,340.9L705.7,340.0L703.0,339.5L701.7,337.9L699.9,335.8L698.3,333.7L696.7,332.9L694.8,333.5L693.6,334.8L693.0,336.6L691.1,337.1L687.6,336.8L688.8,319.9ZM705.2,327.7L706.8,327.4L709.2,326.1L711.5,325.9L713.5,324.1L714.9,324.3L713.8,326.9L711.4,328.2L709.0,329.3L706.7,329.1ZM711.2,319.9L713.0,320.7L715.2,322.5L716.4,325.4L715.5,324.6L713.6,322.0ZM719.7,327.2L721.1,327.4L722.5,330.1L722.0,331.1L720.5,329.5Z"/>
<path id="c-PRI" d="M210.5,264.8L214.1,265.1L213.8,266.1L210.4,266.3Z"/>
<path id="c-PRT" d="M344.6,204.0L346.0,203.2L346.2,204.1L348.1,203.9L349.4,203.7L350.2,204.6L348.7,206.2L348.7,208.0L348.4,209.6L347.3,209.7L348.3,211.1L347.6,212.7L348.3,213.5L347.1,215.3L347.3,216.1L346.2,216.6L344.0,216.6L344.4,214.0L343.6,212.8L343.1,212.0L343.4,210.3L344.5,208.3L344.9,205.8ZM344.6,204.0L344.6,203.6L344.7,203.6Z"/>
<path id="c-PRY" d="M232.3,370.8L235.7,371.2L237.4,371.5L237.9,373.6L238.5,375.6L240.3,375.3L241.2,375.8L240.8,379.8L240.7,382.5L239.1,384.3L236.9,384.7L232.3,384.2L233.9,379.1L231.6,377.7L229.4,376.2L227.0,375.5L224.4,373.6L221.8,371.2L222.4,368.0L222.2,366.7L223.2,364.4L227.0,363.5L229.1,363.6L231.4,365.7L232.3,367.2Z"/>
<path id="c-QAT" d="M476.7,247.4L477.5,248.5L476.8,247.9ZM477.5,248.5L477.2,246.6L478.0,244.9L479.0,245.8L479.3,248.0L478.9,248.9L478.4,248.9Z"/>
<path id="c-ROU" d="M408.2,189.7L409.8,188.3L414.0,188.9L417.2,187.6L419.3,189.5L420.8,191.0L421.4,193.3L421.5,194.7L424.6,195.4L424.6,196.3L423.0,197.9L422.9,199.1L419.5,198.1L416.5,199.4L414.4,199.2L411.2,199.0L410.4,197.9L409.3,197.2L407.6,196.4L407.7,195.4L406.2,194.0L404.9,193.0L406.8,192.3Z"/>
<path id="c-RWA" d="M433.5,316.0L434.5,317.5L434.3,319.1L433.6,319.4L431.7,320.7L430.3,320.5L430.5,319.1L430.8,318.9L430.9,317.3L431.6,316.6L432.2,316.9Z"/>
<path id="c-SAU" d="M444.8,235.2L446.4,234.8L447.4,233.5L444.9,230.9L449.6,229.2L452.3,229.7L456.3,232.0L462.6,236.9L466.5,237.3L466.8,237.2L468.8,237.4L469.5,238.7L471.1,238.6L472.4,240.8L474.5,242.9L475.6,244.0L475.9,246.3L476.7,247.4L476.8,247.9L477.5,248.5L478.4,248.9L478.9,248.9L479.3,249.5L479.4,249.8L479.5,250.2L482.0,253.2L487.9,253.9L489.1,255.7L488.0,260.9L481.4,263.5L474.9,264.6L473.0,265.6L471.6,268.5L469.0,268.1L464.4,267.7L461.7,267.7L461.8,269.7L460.8,270.3L459.7,267.7L457.7,264.6L455.9,261.7L453.2,259.1L451.8,257.0L451.1,253.6L448.8,250.2L446.9,247.9L445.1,245.0L442.6,241.6L441.3,239.8L440.4,239.8L440.9,236.5L443.5,236.9Z"/>
<path id="c-SDN" d="M447.5,258.3L448.0,262.0L448.5,264.3L451.1,266.1L450.7,266.1L449.6,267.6L448.0,268.1L447.3,268.9L447.2,270.6L446.4,274.4L446.7,275.5L446.4,277.7L445.5,280.3L444.2,281.9L443.3,283.6L443.1,284.6L442.0,285.4L441.7,288.4L441.1,288.4L441.1,287.1L440.8,286.1L439.6,285.1L439.3,283.3L439.5,281.3L438.4,281.1L438.3,281.7L436.9,281.9L437.5,282.6L437.7,284.2L436.5,285.6L435.4,287.5L434.2,287.8L432.2,286.3L431.4,286.8L431.2,287.6L430.0,288.1L429.9,288.6L427.6,288.6L427.3,288.1L425.6,287.9L424.8,288.4L424.2,288.2L423.0,286.6L422.6,285.9L420.9,286.3L420.3,287.5L419.8,289.8L419.0,290.3L417.4,289.9L417.5,287.8L417.4,286.8L416.1,285.2L415.8,284.0L415.8,283.4L415.0,282.6L414.9,281.1L414.4,280.1L413.6,280.3L413.8,279.3L414.4,278.2L414.1,277.1L414.8,276.3L414.3,275.7L414.9,274.1L415.9,272.2L417.9,272.4L417.4,262.0L417.4,260.9L420.0,260.9L419.8,255.7L446.7,255.7Z"/>
<path id="c-SEN" d="M326.3,280.4L325.0,280.8L324.8,280.2L324.8,278.9L324.8,278.8L326.8,278.8L327.4,278.5L327.8,278.5L328.6,277.9L329.6,278.4L330.6,278.5L331.6,277.9L331.1,277.1L330.4,277.5L329.7,277.5L328.8,276.9L328.0,276.9L327.5,277.6L324.9,277.6L325.1,277.1L323.3,274.7L324.7,272.7L325.6,271.1L325.7,271.0L326.5,270.2L327.7,270.4L328.8,269.8L330.0,269.8L331.1,270.6L332.6,271.3L334.0,273.2L335.5,275.0L335.6,276.6L336.0,278.1L336.8,278.8L337.0,279.8L336.9,280.6L336.6,280.8L335.3,280.6L334.6,280.9L333.0,280.3L331.9,280.3L327.6,280.1Z"/>
<path id="c-SLE" d="M337.6,293.8L337.5,294.6L337.0,295.3L336.8,295.1L334.5,293.8L332.9,291.2L332.7,289.8L332.8,289.9L334.1,288.7L334.3,288.0L334.7,287.4L335.4,287.4L335.9,286.9L337.7,286.9L338.4,287.8L338.9,288.9L338.8,289.7L339.2,290.3L339.1,291.3L339.8,291.2L338.7,292.4Z"/>
<path id="c-SLV" d="M158.9,275.5L160.7,276.6L161.6,276.6L162.5,277.1L162.2,278.1L162.1,278.7L159.4,278.4L157.0,277.2L158.4,276.1Z"/>
<path id="c-SOM" d="M462.4,283.2L462.7,283.3L464.4,285.7L466.7,285.8L470.1,284.9L473.5,283.9L476.9,283.4L479.9,281.9L481.0,282.2L480.7,285.7L481.4,285.8L480.1,288.8L478.4,292.2L476.9,296.1L474.5,300.1L472.4,303.2L469.5,306.6L467.9,307.9L464.9,310.5L462.1,313.1L459.3,317.3L459.2,317.4L458.0,315.3L457.9,305.8L459.9,302.9L460.5,302.1L462.0,302.0L464.0,300.2L467.0,300.1L473.3,292.2L471.4,292.2L463.8,289.1L462.9,288.2L462.0,287.0L461.1,285.5L461.6,284.6L461.9,284.5Z"/>
<path id="c-SSD" d="M419.8,289.8L420.3,287.5L420.9,286.3L422.6,285.9L423.0,286.6L424.2,288.2L424.8,288.4L425.6,287.9L427.3,288.1L427.6,288.6L429.9,288.6L430.0,288.1L431.2,287.6L431.4,286.8L432.2,286.3L434.2,287.8L435.4,287.5L436.5,285.6L437.7,284.2L437.5,282.6L436.9,281.9L438.3,281.7L438.4,281.1L439.5,281.3L439.3,283.3L439.6,285.1L440.8,286.1L441.1,287.1L441.1,288.4L441.7,288.4L441.5,290.5L441.2,291.2L439.9,291.3L439.2,292.8L440.6,293.0L441.8,294.2L442.2,295.3L443.3,295.9L444.7,299.0L443.1,300.4L441.8,302.0L440.3,303.2L438.7,303.2L436.9,303.8L435.4,303.2L434.4,303.9L432.4,302.2L431.8,301.1L430.6,301.6L429.5,301.5L428.9,301.9L427.8,301.6L426.4,299.5L426.0,298.6L424.3,297.6L423.7,296.0L422.7,294.9L421.1,293.5L421.0,292.7L419.9,291.6L418.1,290.5L417.4,289.9L419.0,290.3Z"/>
<path id="c-SUR" d="M230.4,304.2L229.5,302.7L229.8,301.1L231.2,299.5L231.6,297.6L231.6,297.5L231.9,297.7L235.4,297.6L238.8,298.0L237.7,300.1L237.8,302.1L238.7,303.7L238.2,305.8L237.3,307.0L236.3,306.4L234.3,306.6L234.0,308.3L232.9,308.0L231.3,305.8Z"/>
<path id="c-SVK" d="M399.8,185.6L401.2,184.4L402.4,184.2L403.2,185.2L403.8,184.9L405.4,184.9L406.8,184.5L408.8,185.5L408.2,187.2L407.3,187.3L404.8,187.0L403.1,187.7L401.5,188.7L399.5,188.9L398.1,188.2L397.6,186.7L398.0,186.1Z"/>
<path id="c-SVN" d="M391.3,193.8L390.8,192.8L391.4,192.0L393.2,192.3L395.4,191.5L396.2,191.1L397.2,192.1L395.5,192.8L394.9,194.6L393.4,194.3L391.4,194.6L391.8,194.3L391.5,194.1Z"/>
<path id="c-SWE" d="M385.3,158.8L386.3,158.1L385.8,156.2L386.8,155.3L385.4,154.5L385.1,152.4L385.1,151.5L384.7,150.1L386.0,149.1L387.9,148.7L388.2,148.0L387.4,147.7L388.7,146.1L388.4,144.3L390.1,143.9L391.4,142.0L391.0,141.1L392.6,139.8L393.9,138.9L397.0,139.3L397.4,137.7L397.8,137.7L399.9,138.7L402.6,140.3L403.8,141.4L404.1,143.6L405.3,145.0L403.7,145.0L402.0,145.4L400.9,146.4L400.9,148.0L399.4,149.6L397.1,151.0L395.5,152.6L394.5,154.7L394.8,156.9L397.4,158.1L398.2,159.0L397.3,160.2L396.1,161.4L394.6,162.4L394.8,164.1L394.5,166.5L393.9,167.9L391.4,168.0L390.7,169.3L389.1,169.8L388.1,169.7L387.8,168.5L387.8,166.8L385.9,164.6L384.5,162.4L384.1,160.9L385.2,160.2Z"/>
<path id="c-TGO" d="M366.6,287.5L366.7,288.8L367.1,289.3L367.0,295.3L367.5,296.9L367.1,296.9L366.1,297.2L365.6,297.4L365.2,296.7L364.6,295.1L364.4,293.8L364.9,291.4L364.4,290.5L364.2,288.4L364.2,286.5L363.2,285.2L363.3,284.3L365.4,284.4L365.1,285.8Z"/>
<path id="c-TJK" d="M516.6,210.6L520.5,210.2L521.4,212.4L523.8,212.8L524.8,215.9L522.3,215.5L520.0,216.6L517.8,217.1L517.2,214.2L516.3,213.2L514.2,213.2L514.5,215.1L512.9,215.0L511.8,215.8L509.5,216.1L510.0,213.5L508.2,211.1L509.6,209.9L510.4,208.3L510.2,206.8L512.4,206.5L513.4,208.3L513.9,209.8Z"/>
<path id="c-TKM" d="M478.6,203.5L480.5,205.5L481.6,205.4L483.8,205.4L484.9,203.1L486.2,201.7L489.6,203.1L490.3,205.2L494.3,205.9L496.2,208.7L500.6,211.5L506.2,214.0L506.7,215.7L504.8,215.1L503.0,218.4L500.2,219.6L498.8,221.4L496.2,220.1L495.5,217.5L493.9,217.5L491.0,215.3L489.0,214.9L486.1,213.3L482.5,213.8L481.4,215.4L479.5,215.7L479.4,215.3L478.6,211.6L477.8,210.9L476.1,208.9L475.9,208.8L475.2,205.7L474.2,204.4L474.2,204.2L476.6,202.8Z"/>
<path id="c-TUN" d="M381.9,228.3L381.8,227.7L380.0,226.1L379.7,224.1L381.0,222.7L381.5,220.5L381.1,218.1L381.5,216.7L381.9,216.7L384.4,215.8L385.5,216.1L385.6,217.1L387.3,216.4L386.2,218.1L386.3,219.7L387.4,221.3L386.8,222.6L385.3,223.6L385.4,224.7L386.9,225.4L388.5,226.6L388.4,228.6L387.4,229.4L386.7,230.2L385.3,231.2L385.5,232.3L385.4,233.4L384.3,234.0L383.2,229.4Z"/>
<path id="c-TZA" d="M450.3,321.2L450.5,322.7L453.7,325.3L453.7,325.4L452.7,328.8L453.8,330.8L454.0,334.0L454.6,337.9L455.9,340.1L454.1,341.5L451.5,342.6L450.2,342.5L449.3,343.3L447.7,343.3L447.1,343.7L444.4,342.9L443.5,343.1L443.5,342.6L442.6,338.1L441.3,337.9L441.3,338.3L440.9,337.7L438.7,337.2L437.4,336.4L435.9,336.0L435.0,335.5L434.1,334.9L432.9,331.6L431.6,330.1L431.1,328.6L431.4,327.2L431.0,324.8L431.9,324.7L432.8,323.8L433.7,322.4L434.3,321.9L434.2,321.0L433.8,320.4L433.6,319.4L434.3,319.1L434.5,317.5L433.5,316.0L434.4,315.7L436.9,315.8L441.6,315.6L442.0,315.9Z"/>
<path id="c-URY" d="M242.8,395.2L244.9,396.7L246.7,398.4L246.1,400.0L246.5,401.2L245.9,402.9L243.8,404.3L240.9,404.2L237.2,403.0L235.7,401.8L235.6,401.5L235.7,399.5L235.3,397.4L235.5,394.0L235.6,391.9L237.4,391.6L239.5,393.5L240.4,393.6ZM236.8,405.2L236.2,403.6L238.8,405.5Z"/>
<path id="c-UZB" d="M484.0,194.5L490.0,197.4L492.8,199.7L498.7,199.2L501.7,201.0L502.3,203.6L503.4,203.9L507.2,205.9L508.8,207.1L509.2,205.3L512.5,203.0L512.2,205.0L516.1,205.9L518.2,206.6L517.1,207.7L515.8,208.4L513.4,208.3L512.4,206.5L510.2,206.8L510.4,208.3L509.6,209.9L508.2,211.1L510.0,213.5L509.5,216.1L506.7,215.7L506.2,214.0L500.6,211.5L496.2,208.7L494.3,205.9L490.3,205.2L489.6,203.1L486.2,201.7L484.9,203.1L483.8,205.4L481.6,205.4L479.2,195.9Z"/>
<path id="c-VEN" d="M206.7,305.8L208.0,304.2L206.8,301.4L207.0,299.3L207.9,296.9L203.2,297.2L200.4,294.7L197.4,294.8L196.5,293.7L196.7,291.2L195.8,289.4L194.6,289.1L195.8,285.8L196.8,284.1L198.2,282.7L199.5,282.2L199.4,282.3L198.2,283.4L198.8,284.9L197.8,287.0L198.8,289.1L200.1,287.5L199.5,284.7L202.1,283.4L202.7,281.3L203.3,283.1L206.2,283.9L207.1,285.7L211.7,285.4L213.9,286.7L216.2,286.0L219.7,285.2L219.0,286.0L220.8,287.3L223.0,288.8L223.4,290.9L225.2,291.2L225.7,291.4L223.5,293.4L224.4,294.6L222.4,295.6L221.8,297.6L223.3,299.5L222.7,301.2L218.4,302.5L218.4,303.4L215.6,302.7L214.3,302.4L215.1,305.0L215.4,306.6L216.9,307.1L215.1,309.2L212.5,310.2L212.0,311.3L210.2,311.1L208.9,310.0L208.2,307.1Z"/>
<path id="c-YEM" d="M461.7,267.7L464.4,267.7L469.0,268.1L471.6,268.5L473.0,265.6L474.9,264.6L481.4,263.5L484.4,269.7L482.5,272.4L479.9,273.6L475.9,275.3L472.1,277.6L466.5,279.7L463.0,280.1L462.4,278.4L461.4,274.5L461.0,271.6L460.8,270.3L461.8,269.7Z"/>
<path id="c-ZMB" d="M440.2,340.6L439.8,341.3L439.3,343.4L439.7,345.6L439.0,346.4L438.2,348.9L439.3,349.5L432.3,351.7L432.5,353.6L430.7,353.9L429.4,354.9L429.1,355.9L428.2,356.1L426.2,358.2L424.8,359.9L424.1,360.0L423.4,359.7L420.8,359.4L420.4,359.0L419.5,358.4L418.0,358.2L416.2,358.8L414.7,357.2L413.3,355.1L413.6,346.8L418.4,346.8L418.2,345.9L418.5,344.9L418.2,343.7L418.5,342.4L418.2,341.6L419.0,341.7L419.1,342.5L420.2,342.4L421.7,342.7L422.4,343.8L424.2,344.2L425.6,343.4L426.1,344.7L427.9,345.1L428.7,346.2L429.6,347.7L431.3,347.7L431.2,344.9L430.6,345.3L429.0,344.3L428.4,343.9L428.8,341.3L429.2,338.2L428.7,337.0L429.4,335.4L430.0,335.0L433.2,334.6L434.1,334.9L435.0,335.5L435.9,336.0L437.4,336.4L438.7,337.2L439.7,338.4Z"/>
<path id="c-ZWE" d="M424.1,360.0L424.8,359.9L426.2,358.2L428.2,356.1L429.1,355.9L429.4,354.9L430.7,353.9L432.5,353.6L432.6,354.5L434.5,354.5L435.5,355.0L436.0,355.7L437.1,355.9L438.2,356.7L438.1,360.0L437.5,361.8L437.3,363.8L437.7,364.5L437.3,366.1L437.0,366.3L436.3,368.2L433.8,371.2L432.6,370.9L431.8,371.2L430.7,370.8L429.8,370.7L428.4,369.6L426.7,369.2L426.1,367.5L426.1,366.6L425.2,366.3L422.7,363.4L422.1,361.9L421.6,361.5L420.8,359.4L423.4,359.7Z"/>
<path id="c-africa" d="M410.9,227.1L414.0,227.9L414.1,227.9L410.9,227.1L409.0,227.8Z"/>
<path id="c-eurasia" d="M638.2,206.7L637.5,207.5L638.1,206.4ZM440.8,236.1L440.9,236.0L440.9,236.5Z"/>
</g>
<g fill="#fee6ce">
<path id="c-BGD" d="M563.1,250.5L561.4,248.8L561.7,247.1L563.1,247.1L561.4,244.2L563.6,245.3L565.1,247.1L570.9,247.7L570.8,249.7L568.6,250.2L568.9,251.8L570.0,253.2L571.3,251.3L572.6,255.8L572.0,257.5L572.3,258.7L571.4,257.0L570.7,254.9L568.8,254.1L567.9,255.7L565.7,256.1L564.8,256.4L563.9,253.4Z"/>
<path id="c-CAN" d="M131.5,136.5L133.2,137.9L136.3,137.4L140.5,136.7L145.7,135.8L149.2,135.6L152.2,134.5L153.0,135.2L154.6,136.7L156.8,135.8L161.2,136.1L165.2,137.8L170.0,138.0L170.4,139.4L167.3,140.3L170.8,140.7L176.3,140.3L178.9,141.1L180.5,139.4L184.9,138.3L186.7,140.0L189.7,140.5L194.8,140.5L197.8,138.9L200.6,139.6L203.3,137.4L204.0,135.6L203.5,135.2L209.3,131.5L211.6,133.5L210.1,136.3L212.1,136.9L211.2,139.1L212.2,141.1L215.9,140.7L220.6,136.7L225.9,136.3L226.8,137.4L225.2,140.0L222.2,142.7L218.8,143.9L215.7,143.4L213.5,144.1L213.5,145.2L207.8,148.4L203.4,149.6L198.2,151.9L193.8,154.3L188.8,158.5L186.7,161.4L189.7,161.7L188.4,165.0L191.9,165.5L195.6,167.2L199.1,169.4L204.5,170.2L202.2,175.6L202.6,177.6L203.5,179.9L206.7,179.4L208.8,176.1L209.6,172.7L214.5,169.4L217.3,167.0L217.7,163.3L216.9,161.4L220.4,158.5L221.5,155.0L222.8,152.9L227.9,153.3L231.5,155.0L235.4,156.2L235.1,158.5L232.8,161.4L235.2,162.9L239.3,161.4L242.3,159.0L244.6,157.6L244.7,159.7L245.9,163.3L246.5,166.3L247.3,169.0L250.3,171.2L251.7,172.7L254.0,174.4L253.7,176.9L250.8,179.1L247.1,180.1L243.3,182.4L239.3,182.4L234.3,182.4L230.2,182.7L227.5,184.7L223.7,186.7L219.4,190.0L217.6,191.3L221.1,189.2L225.8,186.4L230.3,185.2L233.1,185.7L233.0,187.2L230.2,188.2L231.1,190.0L230.2,192.6L232.7,193.3L235.6,193.8L237.1,194.3L239.4,190.8L240.3,193.3L237.3,195.1L232.7,196.7L228.9,198.7L226.1,199.7L225.9,198.6L225.9,198.5L225.9,198.4L225.7,197.7L229.4,195.1L230.4,194.1L226.9,195.4L224.6,195.9L224.5,196.4L224.1,195.5L224.0,195.1L224.3,194.3L223.7,193.6L224.7,190.6L224.0,189.9L222.6,190.3L222.4,190.0L222.1,189.6L219.6,192.3L219.1,192.4L218.6,193.6L218.3,194.0L217.1,194.9L215.7,195.4L215.3,195.9L211.5,195.9L208.7,195.9L207.3,196.3L204.6,197.9L203.1,199.4L200.6,199.4L197.9,199.9L198.0,200.4L197.7,201.5L192.3,203.1L189.5,204.4L188.4,203.5L188.6,202.8L190.8,201.0L192.0,199.5L192.9,195.1L191.3,193.8L190.8,193.1L190.2,192.0L189.6,191.0L184.1,187.5L181.9,188.2L180.6,188.0L177.5,188.1L175.9,187.2L174.0,186.8L172.0,186.4L172.4,184.9L171.8,184.7L171.3,185.7L115.5,185.7L115.2,184.9L113.8,183.2L112.7,181.9L110.6,180.6L110.9,178.1L111.5,175.6L111.5,173.2L111.6,171.4L111.6,171.2L112.9,170.2L114.7,168.2L112.6,166.8L113.3,165.5L113.6,162.4L112.9,160.0L112.8,159.1L110.1,160.0L107.2,161.1L107.3,158.1L104.0,157.8L128.3,136.4ZM239.0,405.7L239.1,406.5L236.8,405.2L238.8,405.5ZM242.5,189.2L244.8,187.0L246.7,184.4L249.0,181.4L252.3,179.4L253.4,179.1L251.5,181.9L250.1,183.2L252.0,183.4L254.7,184.4L255.5,185.2L255.9,186.4L254.3,188.5L255.9,189.4L254.5,191.7L252.8,191.2L253.1,190.0L249.6,191.0L249.6,189.5L246.2,189.2ZM113.5,187.2L110.9,186.8L109.6,185.2L107.9,182.9L107.3,181.3L109.6,181.1L112.4,183.0L113.4,185.3L113.8,186.4ZM104.9,172.9L107.2,173.2L105.4,175.1L105.0,177.6L103.8,176.9L103.6,174.9ZM245.6,154.0L243.2,153.3L241.0,152.4L237.7,151.9L235.4,149.6L231.9,148.0L226.3,148.4L226.5,146.8L233.9,146.1L238.1,143.4L239.3,140.0L238.2,137.8L235.2,136.1L232.5,135.2L227.1,135.8L223.1,135.6L221.1,135.0L217.3,134.5L216.9,133.0L218.5,130.3L221.3,127.6L227.3,127.6L227.4,129.2L226.1,131.8L229.9,128.2L235.0,127.8L233.8,130.3L239.9,129.6L242.3,130.7L246.1,132.2L248.8,134.3L250.5,135.6L250.8,137.8L253.5,140.5L256.8,142.3L257.2,143.2L254.5,145.2L251.3,146.4L248.2,143.9L246.4,144.1L248.7,148.0L248.1,150.8L245.1,151.5L241.5,149.8L242.8,152.4L245.4,152.6ZM194.1,136.5L190.0,138.3L186.4,137.6L180.3,138.7L176.0,138.8L173.2,137.4L168.8,136.7L169.4,135.4L176.5,135.0L179.0,134.1L169.4,134.3L170.2,132.4L175.0,130.3L181.0,128.6L185.9,129.2L191.1,128.8L195.5,127.8L196.9,128.6L194.4,130.3L198.1,131.3L198.7,132.4L194.2,134.5ZM162.2,133.2L160.1,131.3L165.6,128.2L168.9,126.3L173.8,126.1L178.5,126.7L179.4,128.6L172.7,130.9L166.7,132.6ZM241.2,122.7L244.8,122.1L251.7,118.8L254.3,117.3L263.4,114.9L272.0,113.2L278.4,111.6L275.8,110.7L267.9,110.4L256.8,110.5L246.1,111.4L237.4,112.9L239.7,114.4L239.6,116.3L235.3,118.2L229.8,120.5L235.6,120.7L238.5,122.3ZM227.5,118.6L224.7,116.7L229.5,114.1L234.8,113.2L238.4,114.9L234.9,117.3ZM220.4,125.7L228.5,126.2L237.7,125.9L240.3,124.1L238.1,122.7L231.0,123.7L225.4,123.9L226.1,122.5L221.9,121.5L216.9,121.9L218.9,123.5L221.1,124.3ZM181.9,124.7L187.0,122.1L192.3,122.7L198.2,121.7L201.0,123.1L199.0,125.1L193.9,125.7L187.7,126.3L185.8,125.3ZM201.9,124.9L204.7,125.1L210.9,125.1L214.1,122.3L211.8,121.7L206.3,122.5ZM213.8,125.3L216.3,125.9L218.5,124.7L216.9,123.9ZM208.9,131.1L212.3,127.6L217.1,126.7L220.7,127.3L219.1,129.6L212.7,131.3L210.1,131.5ZM201.6,132.8L198.8,130.7L199.5,129.2L205.6,127.1L209.1,127.6L208.6,129.6L205.6,132.0ZM196.6,137.4L201.3,135.8L203.8,137.2L201.4,138.7L197.2,138.7ZM216.5,144.8L219.1,147.3L220.8,149.6L213.6,151.7L210.5,151.0L208.6,149.8L213.4,145.4ZM174.9,123.1L180.5,123.5L189.7,120.7L186.8,120.1L180.0,121.7ZM207.5,119.1L214.5,119.5L218.4,117.6L212.8,116.9ZM218.4,119.3L221.9,119.5L223.5,117.6L220.1,118.0ZM234.3,129.0L238.3,129.6L242.0,129.0L239.3,127.3Z"/>
<path id="c-CZE" d="M388.2,183.8L388.4,183.4L387.5,182.4L388.3,182.3L390.2,181.4L391.7,180.5L392.8,181.0L393.8,180.8L395.9,181.5L395.7,182.1L396.7,182.9L397.3,182.1L398.7,182.4L398.6,183.0L400.5,183.4L401.2,184.4L399.8,185.6L398.0,186.1L397.6,186.7L396.5,186.3L393.6,185.7L393.0,186.7L391.3,186.3L389.5,184.9Z"/>
<path id="c-MAR" d="M359.5,222.4L359.6,225.2L360.7,228.6L360.5,229.4L356.9,229.5L355.3,230.5L355.2,232.4L352.5,233.5L351.5,235.1L348.4,235.9L346.4,236.4L344.0,238.2L343.9,240.9L333.9,240.9L334.5,240.2L337.7,239.3L340.6,236.7L341.8,233.8L341.7,231.2L342.9,228.3L344.7,226.2L346.7,225.4L348.4,224.3L349.8,221.3L350.5,219.7L351.7,219.4L352.4,220.7L354.6,221.3L356.8,221.0L358.5,221.5Z"/>
<path id="c-PAK" d="M502.2,244.4L504.8,243.6L504.8,242.3L503.6,242.0L503.1,239.4L500.5,238.0L498.3,235.2L502.1,236.4L505.7,236.4L510.1,235.2L510.1,232.5L512.9,231.2L513.5,230.1L515.9,229.7L515.8,226.9L517.3,226.1L516.1,224.4L518.5,223.5L519.0,220.7L517.6,219.0L519.9,217.1L524.2,216.4L527.4,217.6L528.6,219.6L532.3,220.5L530.9,221.8L527.9,222.8L524.6,222.6L524.9,224.7L526.9,227.5L528.9,228.8L527.6,229.9L528.1,232.0L527.0,234.0L525.4,237.4L523.7,240.2L520.8,240.0L518.8,242.3L520.5,243.8L520.6,246.0L522.7,248.8L523.0,249.4L518.3,249.7L517.0,251.3L515.3,250.7L513.9,248.4L512.6,246.8L508.1,247.2L503.7,247.4L501.7,247.5L501.6,247.4Z"/>
<path id="c-SRB" d="M404.9,193.0L406.2,194.0L407.7,195.4L407.6,196.4L409.3,197.2L410.4,197.9L410.0,199.0L411.4,200.5L410.4,201.3L410.3,202.8L408.5,203.0L408.1,201.4L406.4,200.5L405.4,201.7L405.3,201.0L403.4,199.7L403.9,198.6L403.5,197.7L402.8,196.2L403.5,195.4L402.8,195.1L402.2,193.5L403.5,192.9Z"/>
<path id="c-THA" d="M592.0,282.3L590.8,280.2L590.3,277.2L587.7,273.4L588.4,270.6L584.8,264.7L585.3,262.0L587.7,261.6L588.8,260.0L590.2,260.0L591.6,262.2L593.1,262.0L593.2,267.2L595.6,265.6L597.1,266.5L599.8,265.4L601.9,267.7L602.3,270.1L604.6,272.9L604.7,275.5L604.0,275.8L599.4,275.7L598.2,277.5L597.8,278.5L599.5,282.6L598.0,281.3L594.9,280.0L594.4,278.0L593.0,277.9L592.4,278.7L592.5,281.5L592.0,284.1L591.3,286.2L591.7,288.8L593.4,290.9L594.8,294.3L597.1,295.2L598.6,296.8L598.0,298.0L596.4,298.4L595.6,296.8L594.0,296.3L592.7,294.3L590.3,292.2L589.6,292.5L589.4,289.6L589.9,287.2L590.0,287.1L589.9,287.0L590.2,286.1Z"/>
</g>
<g fill="#fdd0a2">
<path id="c-KAZ" d="M463.3,190.8L461.2,188.9L459.3,188.9L457.7,187.2L459.0,185.2L457.4,183.5L458.1,182.4L460.9,183.3L460.9,181.6L463.7,179.1L467.2,179.4L469.2,179.4L471.9,180.6L474.5,181.6L475.7,180.5L479.9,180.5L482.1,181.8L485.7,181.1L485.6,179.9L481.9,178.3L483.4,177.4L481.9,173.3L482.7,174.3L485.0,173.0L489.7,172.3L494.8,170.7L499.5,169.9L501.5,172.7L506.1,173.3L506.5,173.0L512.1,172.0L512.1,173.3L515.6,174.9L522.8,181.1L525.3,180.8L529.3,180.6L534.5,184.2L537.5,183.7L539.7,185.3L537.0,187.2L538.0,190.6L532.8,190.3L533.1,194.5L533.8,195.4L530.1,196.9L532.3,200.6L531.3,201.3L532.1,203.1L529.3,201.5L522.5,201.3L518.5,200.5L517.7,202.4L513.8,201.5L512.5,203.0L509.2,205.3L508.8,207.1L507.2,205.9L503.4,203.9L502.3,203.6L501.7,201.0L498.7,199.2L492.8,199.7L490.0,197.4L484.0,194.5L479.2,195.9L481.6,205.4L480.5,205.5L478.6,203.5L476.6,202.8L474.2,204.2L473.5,202.1L470.0,200.5L467.7,197.2L469.1,196.9L469.3,195.4L472.7,194.9L472.7,193.1L472.1,191.8L470.7,191.0L467.6,191.0L464.8,192.0L464.1,192.5L462.8,191.5Z"/>
<path id="c-MYS" d="M596.4,298.4L598.0,298.0L598.6,296.8L600.8,298.8L601.9,301.4L601.9,304.0L603.1,306.8L604.0,309.4L602.3,309.7L600.2,307.9L597.3,305.5L595.4,302.1L594.5,298.8L594.0,296.3L595.6,296.8ZM630.9,301.9L630.0,302.9L629.9,305.5L628.5,307.1L628.1,309.2L625.8,309.7L623.1,309.2L621.5,310.5L619.2,310.6L617.3,310.0L616.4,307.8L618.0,308.7L620.1,309.2L620.2,306.6L622.9,305.3L624.1,304.5L626.3,301.6L627.6,300.3L626.5,301.4L627.9,302.7L629.3,301.9L629.4,300.3L629.0,299.6L629.6,299.0L630.7,297.4L632.1,295.1L632.5,295.1L634.6,296.9L635.5,298.0L638.2,299.5L636.9,301.5L635.3,302.1L633.2,301.9Z"/>
<path id="c-PHL" d="M637.5,264.8L638.4,264.6L641.4,265.1L641.8,268.2L642.6,269.3L642.2,270.6L641.0,271.9L641.4,274.5L642.5,276.3L644.3,275.8L647.0,277.1L647.9,280.4L645.9,279.2L644.2,278.7L644.2,276.8L642.2,276.8L640.4,277.4L639.3,276.1L640.0,275.0L638.8,275.4L637.5,272.7L636.6,270.3L637.9,271.1L637.5,267.3ZM651.8,287.5L654.0,290.9L654.9,294.1L654.1,296.7L652.9,294.8L652.2,295.9L652.9,298.5L650.3,297.4L649.0,295.4L649.1,294.3L647.5,293.8L644.5,295.1L644.7,292.7L646.4,290.9L648.3,292.0L649.2,291.7L650.2,290.9L650.9,289.6ZM648.3,280.5L650.6,280.4L652.2,284.1L650.4,284.1L649.7,282.3ZM648.9,283.4L650.3,283.6L651.0,286.5L650.2,287.0L649.1,284.9ZM644.7,287.0L645.6,284.7L647.0,284.7L646.9,288.6L646.2,289.5L645.0,288.3ZM643.0,282.1L645.4,283.1L646.0,284.1L644.7,285.4L643.6,286.0ZM647.1,288.3L647.3,286.2L648.0,283.9L648.2,285.4L647.5,287.8ZM647.9,287.8L649.0,286.6L649.8,287.5L648.9,288.1ZM639.1,277.9L641.0,278.1L641.9,280.5L641.1,281.3L640.3,280.0ZM633.0,291.2L634.7,289.1L636.3,286.5L637.6,283.4L638.3,285.4L636.8,287.0L635.4,289.6L633.7,291.4Z"/>
<path id="c-POL" d="M392.2,178.6L392.4,178.0L392.0,176.6L391.1,176.0L391.5,174.9L391.0,173.4L392.1,173.0L394.7,172.4L396.2,171.4L398.6,171.0L399.3,172.0L400.9,172.3L401.4,172.0L407.5,172.3L409.0,173.3L410.2,175.1L410.3,176.4L409.0,177.4L409.9,177.9L410.1,179.4L411.3,181.0L410.7,182.1L408.8,184.3L408.8,185.5L406.8,184.5L405.4,184.9L403.8,184.9L403.2,185.2L402.4,184.2L401.2,184.4L400.5,183.4L398.6,183.0L398.7,182.4L397.3,182.1L396.7,182.9L395.7,182.1L395.9,181.5L393.8,180.8L392.8,181.0L393.1,180.4Z"/>
<path id="c-TWN" d="M636.1,247.1L637.4,247.9L637.1,250.5L637.1,252.8L636.5,256.0L634.9,254.1L634.0,251.8L634.8,249.2L635.3,247.6Z"/>
</g>
<g fill="#fdae6b">
<path id="c-AUS" d="M690.7,341.0L692.4,345.7L692.3,350.7L695.5,352.2L695.0,356.1L695.8,358.8L695.8,362.4L698.4,364.8L700.5,366.6L701.2,368.7L702.7,371.8L703.4,374.4L705.0,376.2L706.7,379.6L705.5,384.1L705.2,387.8L701.9,392.7L698.9,397.1L696.5,398.9L694.2,401.4L691.6,404.4L688.7,407.5L686.3,410.9L682.2,411.8L678.6,413.3L676.1,415.0L675.4,413.3L674.7,412.2L670.5,414.3L668.0,413.1L665.6,412.4L664.9,409.9L665.9,406.8L664.3,405.8L663.1,406.1L665.1,403.9L664.7,402.3L662.9,404.8L663.8,401.8L665.9,399.2L666.1,398.0L663.6,400.8L659.7,403.6L658.2,403.1L658.6,399.7L657.7,398.2L657.2,396.8L654.0,396.6L652.3,395.3L647.7,395.7L642.8,397.1L639.1,398.2L635.3,399.5L633.3,401.5L629.9,401.4L625.6,401.7L620.1,404.5L616.9,404.4L614.5,402.7L615.1,400.6L616.9,400.0L618.2,396.6L618.2,393.5L618.4,390.1L618.4,388.0L618.1,384.8L617.6,380.7L618.8,378.1L619.1,374.4L620.3,371.8L621.4,370.0L621.9,371.5L624.6,368.9L627.7,366.8L630.2,366.8L633.2,365.5L636.7,364.8L639.4,362.7L641.4,360.1L641.8,357.7L643.9,355.9L644.9,358.5L646.9,355.6L649.4,353.3L652.1,350.1L654.7,349.4L656.4,352.0L659.9,352.0L659.9,348.3L662.0,346.8L663.4,345.6L664.9,344.9L667.5,344.7L667.7,342.8L669.7,343.9L673.0,344.9L676.0,344.4L677.3,345.2L676.0,347.8L674.5,348.8L674.1,351.5L673.1,352.2L674.6,353.8L677.1,355.4L680.2,357.2L681.3,358.8L684.0,358.8L686.1,354.8L687.5,350.9L687.8,347.0L688.9,344.4L689.9,341.8ZM670.1,419.2L673.3,420.3L677.4,419.7L675.6,422.6L672.9,425.7L670.2,426.5L668.1,426.6L668.2,424.1L669.3,420.5Z"/>
<path id="c-DEU" d="M379.1,186.7L379.9,185.8L378.4,185.4L376.9,185.3L376.1,184.5L376.3,183.7L375.6,182.8L376.0,182.3L375.3,181.3L375.4,180.1L375.1,178.6L376.5,178.4L377.2,177.5L376.5,176.8L377.2,176.5L377.4,175.0L377.5,174.0L378.9,173.9L379.9,174.3L380.0,173.4L380.8,173.4L380.6,172.9L380.1,172.4L379.9,170.9L381.5,171.2L382.4,171.0L382.7,171.9L384.4,172.3L384.7,173.2L385.7,173.2L386.8,172.8L387.5,172.0L389.3,172.4L390.1,172.9L391.0,173.4L391.5,174.9L391.1,176.0L392.0,176.6L392.4,178.0L392.2,178.6L393.1,180.4L392.8,181.0L391.7,180.5L390.2,181.4L388.3,182.3L387.5,182.4L388.4,183.4L388.2,183.8L389.5,184.9L391.3,186.3L390.5,186.8L389.2,188.0L389.7,188.6L389.9,189.5L388.1,189.2L385.7,189.7L384.6,189.4L382.9,189.4L380.8,188.7L378.8,189.3L378.6,188.0ZM379.9,170.9L379.3,170.6L379.3,170.5L379.9,170.7Z"/>
<path id="c-KOR" d="M635.8,214.5L636.0,213.2L638.3,212.4L638.4,212.4L642.6,216.6L644.1,219.2L644.4,221.0L642.1,222.2L639.4,223.5L637.7,220.5L637.0,217.9L636.0,217.1L636.1,215.0L635.6,215.0L635.8,214.8Z"/>
<path id="c-TUR" d="M451.0,204.8L453.1,205.0L455.2,205.9L456.3,208.5L458.8,209.6L458.1,210.3L458.3,212.9L459.9,216.2L456.0,215.7L454.7,216.3L451.8,216.3L449.7,217.1L447.2,217.4L443.7,217.5L442.7,218.5L441.8,219.6L441.1,219.3L441.6,217.6L441.0,216.8L440.1,217.6L438.1,217.1L436.3,218.8L434.0,219.0L432.5,217.9L429.6,217.0L429.3,218.4L427.4,218.8L424.4,217.1L422.5,217.4L422.1,215.5L421.8,214.2L419.7,213.2L420.7,212.2L420.7,210.6L419.0,210.1L419.0,209.1L419.3,209.0L420.0,208.5L421.1,207.7L422.8,207.7L424.9,207.6L426.0,206.7L425.2,206.1L425.2,205.7L427.2,205.8L429.7,205.4L432.4,203.9L434.5,203.6L437.2,203.5L439.2,204.4L440.0,205.4L442.7,205.9L444.6,206.3L447.4,206.2L450.9,204.9L450.9,204.7ZM418.5,206.8L419.5,205.3L418.9,204.4L421.0,203.3L422.3,203.6L422.6,204.6L424.5,205.5L424.5,205.9L424.3,206.2L422.6,206.2L421.4,206.6L420.2,207.5L419.2,208.5L419.0,208.5L419.0,208.0L418.5,207.0Z"/>
<path id="c-VNM" d="M598.0,254.4L599.8,253.5L601.0,252.3L603.8,253.4L604.5,255.7L606.2,256.6L607.6,256.9L605.6,258.3L605.0,259.1L603.8,261.4L603.5,263.8L605.7,266.4L608.0,269.3L610.5,271.1L612.6,274.5L613.7,277.9L614.0,281.3L613.5,283.4L611.4,284.9L609.2,286.0L608.6,288.1L605.6,290.4L604.5,290.7L604.4,287.5L603.4,286.0L603.3,285.9L604.7,284.5L606.3,283.6L607.4,281.9L610.0,280.9L609.5,277.9L609.3,274.7L608.7,272.7L606.4,269.8L602.4,264.3L599.4,262.2L600.4,259.9L598.6,258.8L596.1,256.7L594.0,254.7L595.9,254.4Z"/>
</g>
<g fill="#fd8d3c">
<path id="c-IDN" d="M687.6,336.8L685.1,334.2L682.7,335.0L680.2,335.0L682.8,331.9L683.3,330.8L681.5,327.4L679.2,325.9L675.9,324.6L672.5,323.3L670.1,323.7L669.8,322.0L668.0,320.4L671.0,319.6L672.2,319.4L668.7,318.8L665.8,316.9L665.8,315.2L669.3,314.1L673.0,315.3L673.1,318.3L673.7,320.4L674.8,321.7L677.2,320.1L679.6,318.3L681.7,317.0L684.2,318.3L688.1,319.6L688.8,319.9ZM634.7,303.7L635.7,307.1L635.5,310.2L638.0,310.5L635.3,311.3L634.6,314.4L633.0,316.5L631.8,319.1L631.7,322.2L630.9,323.3L627.9,323.9L627.5,322.0L624.1,321.4L621.3,322.2L617.9,320.7L617.5,317.5L615.7,315.2L615.0,312.3L615.0,309.4L616.4,307.8L617.3,310.0L619.2,310.6L621.5,310.5L623.1,309.2L625.8,309.7L628.1,309.2L628.5,307.1L629.9,305.5L630.0,302.9L630.9,301.9L633.2,301.9L635.3,302.1ZM583.0,298.6L585.8,299.4L588.1,299.5L590.1,301.9L591.0,303.4L593.6,305.3L595.3,307.1L597.6,308.7L599.8,310.5L601.4,311.8L602.8,313.9L602.3,315.7L604.4,316.0L604.8,318.3L607.5,319.6L608.2,321.4L607.6,324.1L607.2,328.4L605.8,328.2L604.4,327.7L603.1,326.1L600.9,324.3L599.2,323.0L597.1,319.9L595.6,317.3L595.0,315.6L593.3,313.1L591.9,310.5L591.4,308.7L589.1,306.6L587.6,304.8L585.0,302.3L583.3,300.3ZM605.7,330.8L607.6,328.6L609.6,329.0L612.2,329.5L613.5,330.7L616.7,331.1L617.6,331.2L618.9,329.8L620.6,330.7L622.7,331.1L623.0,331.9L624.6,333.2L626.7,333.3L626.7,335.7L624.1,334.9L621.1,334.8L617.7,334.2L614.3,333.2L612.0,333.5L608.6,332.3L606.6,331.0ZM652.4,308.9L650.3,310.2L647.3,310.6L645.0,310.4L642.7,309.7L642.2,310.4L640.4,311.3L640.0,312.8L639.7,314.9L639.0,317.0L637.5,320.1L637.4,322.0L638.8,322.2L639.0,323.5L638.6,326.5L639.5,327.7L641.0,327.7L640.7,325.6L641.1,323.0L641.0,320.7L642.6,320.1L642.7,322.2L643.4,323.5L643.7,325.6L644.9,325.6L646.6,324.6L646.2,323.4L645.5,322.2L645.3,320.7L643.8,318.3L644.5,318.1L645.7,317.3L648.2,315.4L646.9,315.4L645.5,315.6L643.9,315.3L642.7,316.8L642.1,316.8L641.1,315.4L640.6,314.7L640.6,312.3L641.8,311.8L643.9,311.8L646.2,311.8L648.5,312.3L650.8,312.1L651.9,310.5ZM649.7,337.1L650.9,335.6L651.2,337.9L649.5,339.5L647.1,340.1ZM626.9,334.5L628.5,334.1L629.6,335.0L628.4,336.1ZM630.0,335.0L631.2,334.5L631.9,335.3L630.9,336.3L630.0,336.1ZM632.1,335.3L634.2,334.5L635.6,334.8L637.6,335.0L637.1,335.9L635.2,336.2L632.9,336.7L632.0,336.3ZM639.0,335.3L641.1,334.8L644.1,335.1L646.4,334.8L645.9,335.5L642.8,336.3L639.4,336.1ZM637.0,337.9L639.3,337.5L641.0,339.2L639.5,339.8L637.3,338.7ZM672.7,327.4L674.0,328.2L673.6,330.8L672.5,330.3ZM657.9,307.6L658.8,307.4L658.6,309.2L660.5,309.2L660.5,310.5L658.9,311.0L660.0,312.1L659.4,313.4L658.7,312.1L658.6,315.2L657.7,313.1L657.5,310.5L657.9,309.2ZM658.7,320.9L661.1,320.4L664.5,320.9L665.2,322.5L662.1,322.1L659.1,322.0ZM654.1,321.4L655.9,321.1L656.8,322.0L655.6,323.1L654.2,322.5Z"/>
<path id="c-JPN" d="M659.5,205.2L656.7,202.1L657.8,200.5L658.9,200.3L657.4,197.2L656.2,194.6L658.2,195.9L661.5,197.7L664.0,198.6L665.3,197.7L666.3,199.5L668.0,200.1L665.8,201.2L665.0,203.7L661.3,202.1L659.7,202.8L658.1,202.3L660.0,204.3L661.0,204.1ZM662.0,205.2L663.7,207.5L666.2,209.8L666.9,213.2L665.9,213.3L667.7,216.6L667.7,218.4L669.0,219.8L668.6,221.5L667.9,222.0L666.9,220.2L666.1,221.3L666.1,222.8L664.8,221.8L664.6,222.8L662.0,222.8L661.3,221.8L662.2,223.6L661.6,225.2L660.6,225.8L658.3,223.9L658.5,222.7L656.5,222.6L654.6,223.3L652.3,223.5L651.1,224.4L649.5,224.5L649.2,223.3L650.7,221.8L651.7,220.6L654.4,220.4L656.7,219.8L658.4,220.1L658.1,218.7L658.5,216.8L657.9,215.7L659.1,215.3L659.2,217.0L659.8,217.2L661.4,216.2L661.8,214.5L662.4,213.2L662.3,211.4L660.7,208.9L660.3,207.2L660.1,205.8L661.7,206.6L661.0,204.9ZM653.9,224.1L655.9,223.5L657.4,223.9L658.0,224.9L657.5,226.3L655.6,225.7L655.4,227.7L653.6,226.5L652.6,226.1L653.5,224.8ZM649.5,224.7L651.5,225.3L653.0,227.5L653.2,230.4L652.7,231.4L652.0,232.2L650.8,231.6L649.9,229.4L650.0,228.0L648.5,228.0L647.4,226.5L648.0,225.7L648.7,225.3Z"/>
<path id="c-RUS" d="M401.8,171.5L401.9,170.8L403.5,170.1L403.8,169.9L404.3,170.1L406.9,170.6L407.1,170.8L407.5,172.3L401.4,172.0ZM443.3,197.6L441.7,196.7L440.5,195.9L439.2,195.4L438.9,194.9L440.5,195.0L440.8,194.1L441.5,193.3L441.6,191.8L443.6,190.5L441.3,190.5L441.3,189.4L442.2,188.6L444.2,188.6L444.2,187.6L443.7,186.2L443.9,184.2L439.7,183.3L438.3,182.3L434.4,182.1L433.7,180.6L431.3,178.6L429.9,177.3L426.1,177.9L424.8,175.4L427.2,174.6L425.1,173.2L423.1,171.2L422.6,169.2L419.6,168.7L417.1,167.9L415.6,164.9L414.9,164.4L415.6,163.6L414.7,162.4L414.5,160.9L415.3,159.8L416.0,159.0L417.0,158.5L419.0,158.7L417.6,158.1L415.8,157.5L414.3,157.2L417.6,155.4L419.9,151.7L416.6,149.7L417.4,148.9L415.5,147.3L415.7,145.2L413.3,142.5L414.3,140.7L411.3,138.9L411.9,137.7L413.5,136.4L414.7,136.2L416.5,135.8L418.6,136.9L422.4,137.4L426.5,138.5L431.4,140.5L434.2,142.7L433.3,143.6L430.1,144.4L424.7,143.6L421.0,142.8L419.0,142.0L421.3,143.9L424.0,145.7L424.7,148.0L428.0,149.1L430.1,148.4L430.1,147.3L427.8,146.5L433.4,147.7L434.7,147.9L433.1,145.7L435.9,143.6L439.7,144.5L439.6,143.4L438.3,141.8L436.3,138.7L440.2,139.1L441.9,140.5L440.4,140.9L442.5,140.6L444.8,140.9L446.1,140.7L448.2,139.9L452.0,138.9L454.7,139.4L453.2,138.0L454.9,138.0L459.4,138.7L462.5,138.0L465.2,138.5L463.6,136.3L465.5,135.8L471.2,137.2L474.1,137.8L476.0,138.3L478.8,139.1L475.8,136.5L474.2,135.6L472.7,133.5L474.6,132.4L473.9,129.6L474.6,128.4L478.5,129.4L481.0,131.3L482.8,133.7L483.9,136.1L485.3,138.3L488.0,139.6L488.3,141.4L487.1,143.2L488.7,143.9L490.5,142.5L489.8,140.0L487.6,137.4L484.9,134.5L483.4,131.8L484.1,130.1L487.7,130.9L489.4,131.1L493.7,131.3L492.6,129.4L496.4,131.8L500.2,133.9L499.2,132.2L493.6,129.2L491.1,128.2L496.1,127.6L499.9,126.5L498.6,125.1L502.0,123.9L507.1,123.0L511.1,123.1L513.7,122.1L515.6,121.1L518.8,119.7L523.1,120.5L526.4,121.9L533.2,121.9L537.1,123.1L539.0,124.5L536.3,126.7L536.5,127.6L533.1,128.8L537.5,127.8L542.2,127.8L545.0,128.1L552.2,128.8L553.8,129.4L559.4,128.8L559.7,127.8L565.0,128.2L569.8,129.4L572.9,131.5L576.4,133.5L578.1,132.2L581.1,132.6L583.8,132.2L587.9,132.8L590.6,132.4L588.8,130.5L589.3,129.6L598.8,130.7L605.1,131.1L608.5,132.4L613.6,133.7L619.1,133.5L624.6,133.9L629.8,136.3L633.2,136.4L638.6,136.6L642.4,136.1L645.9,135.4L648.1,137.4L650.2,138.3L647.4,135.8L651.7,136.0L656.4,136.3L661.6,136.9L665.6,137.9L678.9,146.7L677.8,147.7L675.5,147.4L679.7,149.1L684.7,151.7L681.9,152.6L679.6,154.3L678.4,156.2L677.4,158.5L671.7,157.3L668.9,158.1L668.0,158.9L665.4,159.0L668.7,162.1L667.6,163.3L670.9,164.6L675.1,168.0L674.0,169.4L676.2,171.2L674.4,173.2L676.4,175.1L674.4,175.9L676.0,178.1L675.3,180.9L671.4,178.1L667.0,174.4L663.3,170.7L659.9,167.0L658.9,164.3L660.3,162.6L659.8,159.7L660.6,157.6L661.1,155.4L659.1,153.1L658.1,153.8L654.1,154.5L654.2,155.4L656.8,156.9L648.4,154.7L648.1,155.0L650.8,160.0L647.2,160.9L643.1,159.7L639.1,159.5L634.3,160.2L628.8,160.2L627.2,163.3L626.3,166.3L627.0,170.2L624.8,171.4L630.6,173.2L633.2,173.4L634.7,172.7L639.8,175.1L641.4,178.9L643.5,180.6L644.9,183.2L647.4,187.0L647.5,190.0L647.2,192.8L646.6,196.1L645.6,199.5L642.3,201.8L639.4,200.5L637.9,202.6L638.1,202.8L637.8,202.5L637.6,200.0L634.7,196.4L635.8,195.1L638.6,195.6L638.2,192.6L636.4,187.3L633.1,188.9L628.7,188.1L626.2,185.9L619.2,183.7L618.7,182.7L615.4,179.9L609.4,175.5L604.5,174.3L599.7,174.9L599.0,176.3L600.7,176.8L601.0,178.9L602.0,183.2L601.8,182.3L600.2,184.4L597.4,183.5L593.3,182.7L590.4,184.2L586.5,185.3L581.7,184.8L576.7,182.4L573.7,182.0L567.5,181.6L566.1,179.8L558.5,177.9L558.0,180.6L559.5,181.8L558.7,183.8L552.8,183.0L547.4,181.1L543.2,183.4L539.7,185.3L537.5,183.7L534.5,184.2L529.3,180.6L525.3,180.8L522.8,181.1L515.6,174.9L512.1,173.3L512.1,172.0L506.5,173.0L506.1,173.3L501.5,172.7L499.5,169.9L494.8,170.7L489.7,172.3L485.0,173.0L482.7,174.3L481.9,173.3L483.4,177.4L481.9,178.3L485.6,179.9L485.7,181.1L482.1,181.8L479.9,180.5L475.7,180.5L474.5,181.6L471.9,180.6L469.2,179.4L467.2,179.4L463.7,179.1L460.9,181.6L460.9,183.3L458.1,182.4L457.4,183.5L459.0,185.2L457.7,187.2L459.3,188.9L461.2,188.9L463.3,190.8L462.8,191.5L464.1,192.5L462.1,193.6L461.2,194.1L460.5,195.4L460.4,197.2L462.3,199.0L462.8,201.0L464.6,202.6L465.7,204.0L464.6,205.7L463.3,205.4L461.2,203.9L459.3,202.3L457.7,201.8L455.2,202.1L452.0,200.5L448.0,199.6L446.9,200.0L446.2,199.7ZM61.0,137.9L62.7,138.9L65.1,140.7L67.1,142.3L68.3,143.9L68.9,144.4L64.9,145.7L59.3,148.2L57.0,148.2L54.8,147.3L55.3,145.7L51.8,145.7L53.3,144.1L47.7,146.7ZM639.8,172.2L643.3,174.9L646.3,178.1L650.7,182.7L655.4,185.8L655.9,186.4L651.5,185.2L652.4,187.0L655.1,190.0L658.0,192.3L658.3,193.1L655.8,191.8L655.8,193.6L652.7,189.5L650.1,185.7L647.1,181.9L643.8,178.9L640.5,174.9L640.7,174.1ZM458.0,134.3L453.0,134.1L449.2,133.0L446.9,131.3L447.8,128.8L449.8,126.7L449.5,124.9L452.1,123.1L457.4,121.9L462.7,121.0L467.4,121.5L467.1,122.7L461.9,123.9L457.6,125.5L455.7,127.3L453.9,128.8L453.4,130.9L454.9,133.0ZM502.6,117.3L508.2,117.6L507.7,116.2L503.2,114.9L498.6,115.8ZM510.9,118.6L517.8,118.8L516.7,117.4L511.1,116.5L509.9,117.3ZM496.3,115.1L502.2,115.3L501.8,113.9L496.9,113.4ZM576.1,124.5L580.3,125.7L585.6,125.1L586.6,124.3L580.4,122.9L574.6,123.1ZM590.0,124.5L595.8,125.6L596.9,124.9L592.8,124.3ZM585.1,128.4L589.7,128.8L591.5,128.4L587.5,127.3L584.4,127.3ZM655.6,133.2L659.0,133.8L656.6,132.4L654.8,132.3ZM67.6,133.8L71.4,133.5L73.3,132.8L71.8,132.3L70.0,132.4ZM438.7,114.6L444.7,114.9L447.0,114.2L442.3,113.7Z"/>
<path id="c-ZAF" d="M401.7,387.1L402.0,388.2L403.0,388.4L404.3,388.9L405.6,388.7L407.6,387.4L408.0,377.7L408.6,378.1L409.9,380.6L409.6,382.2L410.0,383.1L411.7,382.8L412.8,381.7L413.9,380.9L414.5,379.6L415.6,379.0L416.6,379.3L417.6,380.1L419.4,380.2L420.9,379.6L421.2,378.8L421.6,377.5L422.9,377.3L423.6,376.3L424.4,374.6L426.5,372.7L429.8,370.7L430.7,370.8L431.8,371.2L432.6,370.9L433.8,371.2L434.7,374.8L435.1,376.7L434.6,379.6L434.7,380.5L433.6,380.0L432.9,380.2L432.7,381.0L432.0,382.0L432.0,382.9L433.2,384.3L434.5,384.0L435.1,382.8L436.8,382.9L436.7,383.3L436.9,383.3L436.9,383.2L436.0,386.2L434.5,388.5L432.0,391.1L430.3,394.0L427.6,396.6L424.7,399.2L421.3,401.3L419.5,401.8L415.7,402.1L411.8,402.1L406.9,403.9L404.3,402.9L403.6,402.7L403.3,401.0L402.6,398.7L403.6,396.6L402.0,392.7L400.0,387.7L399.9,387.4L400.8,386.4ZM425.5,392.8L426.0,392.0L427.2,391.6L427.7,390.7L428.5,389.4L427.8,388.7L426.8,387.8L425.7,388.4L424.5,389.4L423.2,391.1L424.7,393.1Z"/>
</g>
<g fill="#f16913">
<path id="c-USA" d="M225.9,198.5L225.9,198.6L225.9,198.4ZM171.3,185.7L171.8,184.7L172.4,184.9L172.0,186.4L174.0,186.8L175.9,187.2L177.5,188.1L180.6,188.0L181.9,188.2L184.1,187.5L189.6,191.0L190.2,192.0L190.8,193.1L191.3,193.8L192.9,195.1L192.0,199.5L190.8,201.0L188.6,202.8L188.4,203.5L189.5,204.4L192.3,203.1L197.7,201.5L198.0,200.4L197.9,199.9L200.6,199.4L203.1,199.4L204.6,197.9L207.3,196.3L208.7,195.9L211.5,195.9L215.3,195.9L215.7,195.4L217.1,194.9L218.3,194.0L218.6,193.6L219.1,192.4L219.6,192.3L222.1,189.6L222.4,190.0L222.6,190.3L224.0,189.9L224.7,190.6L223.7,193.6L224.3,194.3L224.0,195.1L224.1,195.5L224.5,196.4L220.9,197.7L217.4,199.0L215.3,201.0L214.6,202.3L214.7,204.1L214.9,204.2L214.3,204.6L212.7,204.9L210.0,205.7L207.2,206.5L206.3,207.2L205.6,209.6L203.0,211.6L202.4,210.1L202.2,212.9L199.5,216.3L199.7,212.7L198.5,215.3L198.5,216.8L199.2,219.2L199.1,221.3L196.6,222.6L193.3,224.4L190.3,225.7L187.5,228.0L184.8,230.1L183.1,233.5L183.0,236.1L183.9,239.3L184.4,242.7L183.6,245.8L182.5,247.5L181.2,247.4L180.0,244.7L179.1,241.4L178.9,238.7L178.0,235.6L176.7,234.7L174.0,235.6L171.8,233.8L168.4,234.0L166.2,234.0L164.9,234.6L165.0,237.2L162.2,236.9L160.1,236.1L157.0,235.5L153.5,236.1L151.6,237.4L148.3,239.3L146.0,241.4L145.4,245.3L145.5,245.4L143.2,245.0L141.4,244.2L141.1,241.4L139.8,239.3L139.6,238.2L139.2,236.5L138.1,235.4L136.4,235.1L135.4,235.6L133.9,237.5L132.2,236.7L131.5,235.9L131.2,233.3L129.4,231.2L128.6,230.3L124.9,230.2L124.5,231.4L118.1,231.4L111.0,228.3L111.3,227.7L105.9,228.2L106.0,226.7L104.3,224.9L104.3,224.4L102.5,223.3L100.3,223.0L100.6,221.0L99.7,217.6L99.4,215.8L99.8,214.5L99.4,213.2L98.9,210.6L99.2,208.0L101.3,204.9L102.5,201.5L104.9,198.5L108.5,192.8L109.6,190.8L110.6,187.3L112.7,187.8L113.6,189.5L115.1,187.5L115.5,185.7ZM214.9,204.2L215.7,203.6L215.7,204.4ZM107.3,158.1L107.2,161.1L110.1,160.0L112.8,159.1L112.9,160.0L113.6,162.4L113.3,165.5L112.6,166.8L114.7,168.2L112.9,170.2L111.6,171.2L111.7,170.7L110.4,169.9L111.1,167.0L110.9,165.0L110.1,162.9L107.6,162.6L106.6,161.7L106.2,160.2L104.5,159.5L102.3,158.5L98.9,158.3L96.0,157.6L95.4,156.4L92.4,156.6L89.8,158.5L86.8,159.3L81.8,160.5L83.4,158.5L86.1,156.9L89.8,155.7L85.7,156.6L81.7,158.5L78.4,160.2L74.9,162.1L70.7,163.8L66.7,165.8L60.6,168.2L56.3,169.2L51.6,170.4L47.6,171.4L44.5,171.7L49.5,170.2L54.3,168.5L58.4,167.2L63.4,165.3L68.2,162.6L70.5,161.4L67.7,161.4L64.4,161.9L60.6,161.9L63.5,159.7L63.6,158.5L60.9,158.5L60.2,157.1L61.5,155.0L66.3,152.6L68.3,151.5L71.7,151.2L75.5,150.3L79.1,148.4L79.7,147.3L75.8,148.0L72.3,148.0L70.3,147.5L70.3,145.4L74.9,144.1L80.5,143.2L82.4,144.3L84.1,143.4L84.3,142.3L83.9,140.7L81.8,139.1L86.0,138.0L91.5,136.5L96.3,135.0L102.0,133.9L107.5,132.8L110.5,133.7L114.2,134.5L118.6,135.0L122.7,135.6L128.3,136.4L104.0,157.8ZM71.8,164.6L75.9,163.3L76.3,164.3L72.7,165.8L70.3,166.3ZM57.4,150.3L61.0,149.8L61.9,150.8L58.9,151.0L56.9,150.8ZM55.4,158.1L58.0,157.8L57.4,158.8L55.3,158.9ZM44.4,171.5L48.0,170.7L48.0,171.3L44.3,172.2ZM9.3,261.4L10.1,260.3L11.4,261.2L11.9,262.2L9.7,263.7L9.2,263.0ZM8.4,258.6L9.4,258.3L9.9,259.0L8.9,259.4ZM5.2,256.9L6.1,256.5L6.5,257.5L5.5,257.5ZM2.1,255.6L3.1,255.2L3.2,255.8L2.5,256.0Z"/>
</g>
<g fill="#d94801">
<path id="c-IND" d="M523.0,249.4L522.7,248.8L520.6,246.0L520.5,243.8L518.8,242.3L520.8,240.0L523.7,240.2L525.4,237.4L527.0,234.0L528.1,232.0L527.6,229.9L528.9,228.8L526.9,227.5L524.9,224.7L524.6,222.6L527.9,222.8L530.9,221.8L532.3,220.5L532.8,220.5L535.5,223.6L535.9,225.7L537.7,227.0L537.4,228.3L535.6,228.3L537.1,231.4L539.4,232.2L542.8,234.3L541.5,238.0L544.2,239.1L549.4,241.7L552.4,241.9L553.9,243.3L558.4,244.2L560.6,244.2L559.9,240.4L561.3,239.9L562.0,241.8L562.0,242.8L564.3,243.4L566.9,243.2L569.3,243.0L568.9,241.5L567.8,240.6L569.6,240.3L571.0,238.4L573.5,236.7L575.4,237.3L577.0,236.4L580.3,239.4L580.4,242.4L578.3,241.9L576.4,243.7L575.8,246.6L575.4,250.6L573.6,250.6L573.9,255.0L572.6,255.8L571.3,251.3L570.0,253.2L568.9,251.8L568.6,250.2L570.8,249.7L570.9,247.7L565.1,247.1L563.6,245.3L561.4,244.2L563.1,247.1L561.7,247.1L561.4,248.8L563.1,250.5L563.9,253.4L564.8,256.4L562.8,256.5L560.8,257.0L560.2,259.1L559.3,261.2L556.3,262.7L554.4,265.4L553.0,267.2L551.0,269.8L548.7,271.6L546.6,273.2L546.7,276.6L547.3,278.9L546.6,281.8L546.8,286.0L545.5,286.4L545.0,288.8L543.2,289.9L541.8,292.0L539.3,289.6L538.5,287.0L537.1,283.4L535.0,279.7L533.6,275.8L531.9,272.7L530.4,268.7L528.8,263.5L528.1,260.4L527.7,258.1L527.1,255.2L526.5,257.8L524.1,259.0L522.5,258.6L519.2,255.2L519.7,253.6L518.0,252.3L517.0,251.3L518.3,249.7Z"/>
</g>
<g fill="#7f2704">
<path id="c-CHN" d="M523.8,207.5L525.9,206.3L528.9,205.2L532.1,203.1L531.3,201.3L532.3,200.6L530.1,196.9L533.8,195.4L533.1,194.5L532.8,190.3L538.0,190.6L537.0,187.2L539.7,185.3L541.4,186.7L546.3,188.6L549.8,191.8L551.2,195.4L556.9,196.0L561.6,197.7L565.4,201.7L574.8,201.9L584.6,204.5L593.3,202.4L596.5,199.2L595.0,195.8L599.7,194.9L602.8,194.1L603.9,191.8L608.6,191.7L608.2,190.4L604.1,188.3L603.1,189.1L599.2,189.0L598.4,187.7L597.4,183.5L600.2,184.4L601.8,182.3L602.0,183.2L601.0,178.9L600.7,176.8L599.0,176.3L599.7,174.9L604.5,174.3L609.4,175.5L615.4,179.9L618.7,182.7L619.2,183.7L626.2,185.9L628.7,188.1L633.1,188.9L636.4,187.3L638.2,192.6L638.6,195.6L635.8,195.1L634.7,196.4L637.6,200.0L637.8,202.5L635.3,201.0L635.7,202.4L634.7,203.5L632.9,203.6L633.8,204.9L630.8,204.1L630.2,206.5L628.5,207.6L628.1,208.9L626.5,209.4L624.7,211.4L622.8,211.9L622.7,209.0L622.7,207.5L619.6,206.5L617.8,209.0L615.4,210.9L615.5,212.4L618.8,214.5L619.9,216.1L622.9,214.5L627.3,215.5L625.9,217.4L624.1,219.0L622.9,221.5L626.0,223.9L628.7,227.3L632.0,230.4L632.7,232.5L631.1,234.0L633.8,235.1L634.0,238.5L632.6,240.3L631.5,244.0L631.5,246.6L629.2,249.2L627.0,251.8L625.1,253.5L621.8,254.1L621.3,254.9L619.8,255.2L616.6,256.4L613.6,257.8L613.6,260.0L612.2,259.9L611.5,257.0L608.7,256.5L607.6,256.9L606.2,256.6L604.5,255.7L603.8,253.4L601.0,252.3L599.8,253.5L598.0,254.4L595.9,254.4L594.0,254.7L593.5,257.9L592.1,256.9L589.8,257.0L587.5,255.3L587.5,252.8L585.5,250.2L583.1,250.7L582.6,248.5L584.6,245.5L583.7,241.2L580.3,239.4L577.0,236.4L575.4,237.3L573.5,236.7L571.0,238.4L569.6,240.3L567.8,240.6L565.1,239.8L563.0,239.7L562.0,241.8L561.3,239.9L559.9,240.4L557.1,240.2L555.1,240.0L552.7,238.4L550.6,237.7L548.2,236.0L545.1,233.9L542.8,234.3L539.4,232.2L537.1,231.4L535.6,228.3L537.4,228.3L537.7,227.0L535.9,225.7L535.5,223.6L532.8,220.5L532.3,220.5L528.6,219.6L527.4,217.6L524.2,216.4L524.8,215.9L523.8,212.8L521.4,212.4L520.5,210.2L520.6,208.7ZM614.3,260.7L615.2,262.0L614.4,264.1L612.6,265.6L610.4,264.6L610.0,262.7L611.3,261.2L612.8,260.7Z"/>
</g>
</g>
<g id="legend">
<rect x="109.30" y="537.4" width="77.62" height="10.6" fill="#fff5eb"/><rect x="186.92" y="537.4" width="77.62" height="10.6" fill="#fee6ce"/><rect x="264.54" y="537.4" width="77.62" height="10.6" fill="#fdd0a2"/><rect x="342.16" y="537.4" width="77.62" height="10.6" fill="#fdae6b"/><rect x="419.78" y="537.4" width="77.62" height="10.6" fill="#fd8d3c"/><rect x="497.40" y="537.4" width="77.62" height="10.6" fill="#f16913"/><rect x="575.02" y="537.4" width="77.62" height="10.6" fill="#d94801"/><rect x="652.64" y="537.4" width="77.62" height="10.6" fill="#a63603"/><path d="M730.26,537.4L801.88,537.4L807.88,542.70L801.88,548.0L730.26,548.0Z" fill="#7f2704"/><path d="M109.30,537.4L801.88,537.4L807.88,542.70L801.88,548.0L109.30,548.0Z" fill="none" stroke="#9a9a9a" stroke-width="0.6"/><line x1="109.30" y1="517.5" x2="109.30" y2="537.4" stroke="#d0d0d0" stroke-width="1"/><line x1="186.92" y1="531.7" x2="186.92" y2="537.4" stroke="#d0d0d0" stroke-width="1"/><line x1="186.92" y1="537.4" x2="186.92" y2="548.0" stroke="#000" stroke-opacity="0.25" stroke-width="1"/><line x1="264.54" y1="517.5" x2="264.54" y2="537.4" stroke="#d0d0d0" stroke-width="1"/><line x1="264.54" y1="537.4" x2="264.54" y2="548.0" stroke="#000" stroke-opacity="0.25" stroke-width="1"/><line x1="342.16" y1="531.7" x2="342.16" y2="537.4" stroke="#d0d0d0" stroke-width="1"/><line x1="342.16" y1="537.4" x2="342.16" y2="548.0" stroke="#000" stroke-opacity="0.25" stroke-width="1"/><line x1="419.78" y1="517.5" x2="419.78" y2="537.4" stroke="#d0d0d0" stroke-width="1"/><line x1="419.78" y1="537.4" x2="419.78" y2="548.0" stroke="#000" stroke-opacity="0.25" stroke-width="1"/><line x1="497.40" y1="531.7" x2="497.40" y2="537.4" stroke="#d0d0d0" stroke-width="1"/><line x1="497.40" y1="537.4" x2="497.40" y2="548.0" stroke="#000" stroke-opacity="0.25" stroke-width="1"/><line x1="575.02" y1="517.5" x2="575.02" y2="537.4" stroke="#d0d0d0" stroke-width="1"/><line x1="575.02" y1="537.4" x2="575.02" y2="548.0" stroke="#000" stroke-opacity="0.25" stroke-width="1"/><line x1="652.64" y1="531.7" x2="652.64" y2="537.4" stroke="#d0d0d0" stroke-width="1"/><line x1="652.64" y1="537.4" x2="652.64" y2="548.0" stroke="#000" stroke-opacity="0.25" stroke-width="1"/><line x1="730.26" y1="517.5" x2="730.26" y2="537.4" stroke="#d0d0d0" stroke-width="1"/><line x1="730.26" y1="537.4" x2="730.26" y2="548.0" stroke="#000" stroke-opacity="0.25" stroke-width="1"/><rect x="42.5" y="537.4" width="47" height="10.6" fill="url(#hatchL)" stroke="#9a9a9a" stroke-width="0.6"/><line x1="66" y1="531.7" x2="66" y2="537.4" stroke="#d0d0d0" stroke-width="1"/>
<text id="lg0" x="109.30" y="515.5" text-anchor="middle" class="lg" style="letter-spacing:0.775px;">0 TWh</text><text id="lg1" x="186.92" y="529.9" text-anchor="middle" class="lg" style="letter-spacing:0.867px;">20 TWh</text><text id="lg2" x="264.54" y="515.5" text-anchor="middle" class="lg" style="letter-spacing:0.867px;">50 TWh</text><text id="lg3" x="342.16" y="529.9" text-anchor="middle" class="lg" style="letter-spacing:0.933px;">100 TWh</text><text id="lg4" x="419.78" y="515.5" text-anchor="middle" class="lg" style="letter-spacing:0.933px;">200 TWh</text><text id="lg5" x="497.40" y="529.9" text-anchor="middle" class="lg" style="letter-spacing:0.933px;">500 TWh</text><text id="lg6" x="575.02" y="515.5" text-anchor="middle" class="lg" style="letter-spacing:0.835px;">1,000 TWh</text><text id="lg7" x="652.64" y="529.9" text-anchor="middle" class="lg" style="letter-spacing:0.835px;">2,000 TWh</text><text id="lg8" x="730.26" y="515.5" text-anchor="middle" class="lg" style="letter-spacing:0.835px;">5,000 TWh</text><text id="lgnd" x="66" y="529.9" text-anchor="middle" class="lg" style="letter-spacing:0.521px;">No data</text>
</g>
<text id="ftb" x="17" y="580.8" class="ft" font-weight="700" style="letter-spacing:-0.629px;">Data source:</text>
<text id="ftl" x="92.4" y="580.8" class="ft" style="letter-spacing:-0.103px;">Ember (2026); Energy Institute - Statistical Review of World Energy (2025)</text>
<text id="ftr" x="829" y="580.8" text-anchor="end" class="ft" style="letter-spacing:-0.118px;">OurWorldinData.org/energy | CC BY</text>
</svg>
</body></html>
